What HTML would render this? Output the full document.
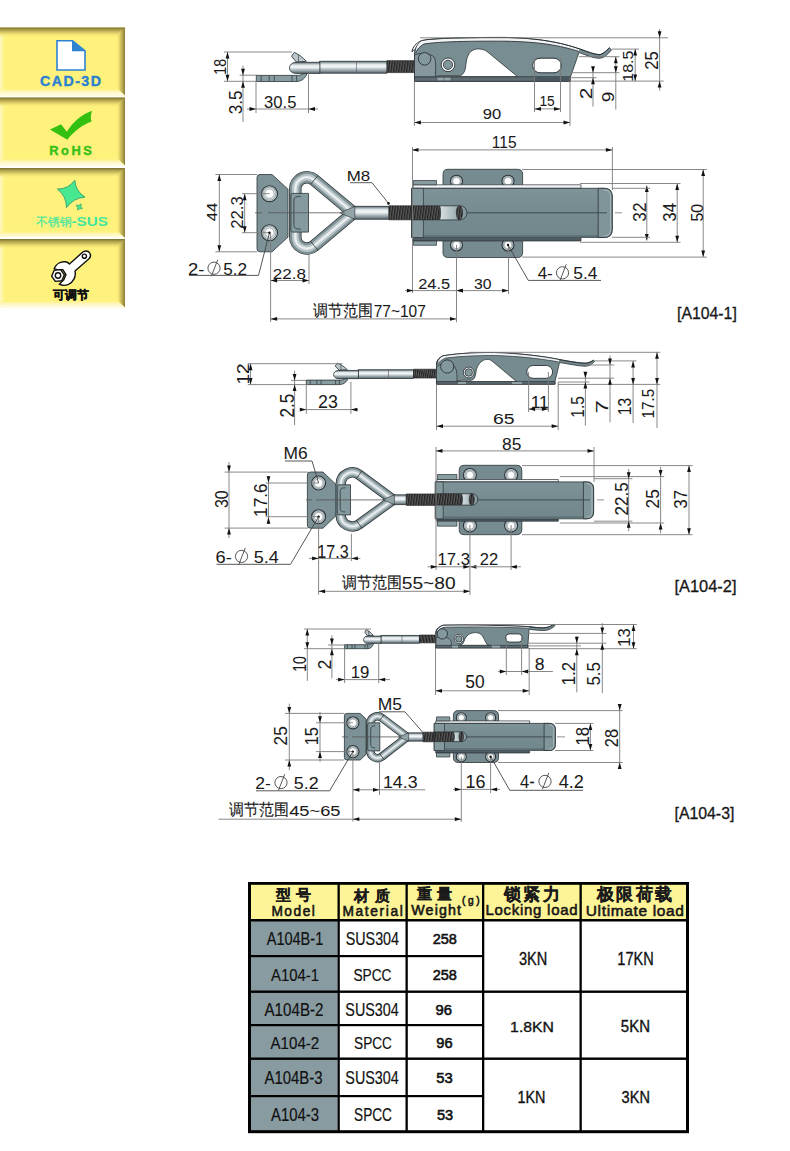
<!DOCTYPE html>
<html><head><meta charset="utf-8"><style>
html,body{margin:0;padding:0;background:#fff;}
body{width:790px;height:1151px;overflow:hidden;position:relative;font-family:"Liberation Sans",sans-serif;}
svg text{font-family:"Liberation Sans",sans-serif;} .ns *{vector-effect:non-scaling-stroke;}
</style></head><body>
<svg width="790" height="1151" viewBox="0 0 790 1151" style="position:absolute;left:0;top:0">
<defs>
<linearGradient id="tTop" x1="0" y1="0" x2="0" y2="1"><stop offset="0" stop-color="#7a6f30"/><stop offset="0.25" stop-color="#b1a24c"/><stop offset="0.6" stop-color="#e6d86f"/><stop offset="1" stop-color="#fef27c" stop-opacity="0"/></linearGradient>
<linearGradient id="tRight" x1="0" y1="0" x2="1" y2="0"><stop offset="0" stop-color="#fef27c" stop-opacity="0"/><stop offset="0.45" stop-color="#dccb66"/><stop offset="0.85" stop-color="#a39444"/><stop offset="1" stop-color="#857a38"/></linearGradient>
<linearGradient id="tBot" x1="0" y1="0" x2="0" y2="1"><stop offset="0" stop-color="#fef27c" stop-opacity="0"/><stop offset="0.5" stop-color="#fef6b8"/><stop offset="1" stop-color="#fffdf0"/></linearGradient>
<linearGradient id="tLeft" x1="0" y1="0" x2="1" y2="0"><stop offset="0" stop-color="#fff8c8"/><stop offset="1" stop-color="#fef27c" stop-opacity="0"/></linearGradient>

<linearGradient id="rod" x1="0" y1="0" x2="0" y2="1"><stop offset="0" stop-color="#5d6d74"/><stop offset="0.25" stop-color="#dfe6e9"/><stop offset="0.45" stop-color="#f4f7f8"/><stop offset="0.7" stop-color="#a9b6bc"/><stop offset="1" stop-color="#56646a"/></linearGradient>
<linearGradient id="rodH" x1="0" y1="0" x2="1" y2="0"><stop offset="0" stop-color="#5d6d74"/><stop offset="0.25" stop-color="#dfe6e9"/><stop offset="0.45" stop-color="#f4f7f8"/><stop offset="0.7" stop-color="#a9b6bc"/><stop offset="1" stop-color="#56646a"/></linearGradient>
<linearGradient id="body" x1="0" y1="0" x2="0" y2="1"><stop offset="0" stop-color="#72888c"/><stop offset="1" stop-color="#7c9296"/></linearGradient>
<pattern id="thr" x="0" y="0" width="2.6" height="20" patternUnits="userSpaceOnUse" patternTransform="skewX(-8)"><rect width="2.6" height="20" fill="#222"/><rect x="1.5" width="0.7" height="20" fill="#8a8a8a"/></pattern>
<pattern id="thrV" x="0" y="0" width="20" height="2.6" patternUnits="userSpaceOnUse"><rect width="20" height="2.6" fill="#222"/><rect y="1.5" width="20" height="0.7" fill="#8a8a8a"/></pattern>
<linearGradient id="lev" x1="0" y1="0" x2="0" y2="1"><stop offset="0" stop-color="#7d9397"/><stop offset="0.5" stop-color="#768b90"/><stop offset="1" stop-color="#72878c"/></linearGradient><linearGradient id="barrel" x1="0" y1="0" x2="1" y2="0"><stop offset="0" stop-color="#d9e0e3"/><stop offset="0.6" stop-color="#a0b2b5"/><stop offset="1" stop-color="#7d9296"/></linearGradient></defs>
<rect x="0" y="27.5" width="125" height="68.0" fill="#fef27c"/>
<rect x="0" y="27.5" width="7" height="68.0" fill="url(#tLeft)"/>
<rect x="0" y="27.5" width="125" height="10" fill="url(#tTop)"/>
<polygon points="116,35.5 125,27.5 125,95.5 116,87.5" fill="url(#tRight)"/>
<polygon points="0,87.5 116,87.5 125,95.5 0,95.5" fill="url(#tBot)"/>
<rect x="0" y="97.5" width="125" height="68.0" fill="#fef27c"/>
<rect x="0" y="97.5" width="7" height="68.0" fill="url(#tLeft)"/>
<rect x="0" y="97.5" width="125" height="10" fill="url(#tTop)"/>
<polygon points="116,105.5 125,97.5 125,165.5 116,157.5" fill="url(#tRight)"/>
<polygon points="0,157.5 116,157.5 125,165.5 0,165.5" fill="url(#tBot)"/>
<rect x="0" y="168" width="125" height="70" fill="#fef27c"/>
<rect x="0" y="168" width="7" height="70" fill="url(#tLeft)"/>
<rect x="0" y="168" width="125" height="10" fill="url(#tTop)"/>
<polygon points="116,176 125,168 125,238 116,230" fill="url(#tRight)"/>
<polygon points="0,230 116,230 125,238 0,238" fill="url(#tBot)"/>
<rect x="0" y="239" width="125" height="68.5" fill="#fef27c"/>
<rect x="0" y="239" width="7" height="68.5" fill="url(#tLeft)"/>
<rect x="0" y="239" width="125" height="10" fill="url(#tTop)"/>
<polygon points="116,247 125,239 125,307.5 116,299.5" fill="url(#tRight)"/>
<polygon points="0,299.5 116,299.5 125,307.5 0,307.5" fill="url(#tBot)"/>
<path d="M57,40.8 H72.5 L85,51 V70 H57 Z" fill="#fff" stroke="#2d82d2" stroke-width="1.6"/>
<path d="M72,40.5 L85.7,51.2 H72 Z" fill="#2d82d2"/>
<text x="40.03" y="86.06" font-size="14.23" letter-spacing="1.45" fill="#2b80d0" font-weight="bold" stroke="#2b80d0" stroke-width="0.4">CAD-3D</text>
<path d="M50,129.5 L61,124.3 L66.8,131.8 C73,122 82,114 92.3,110.8 C90.5,114.5 90.5,118.5 91.6,121.5 C83,124.5 74,131 67.3,139.8 Z" fill="#33c010"/>
<text x="49.17" y="154.57" font-size="12.82" letter-spacing="2.61" fill="#38bf18" font-weight="bold" stroke="#38bf18" stroke-width="0.4">RoHS</text>
<path d="M74.8,180.3 Q75.41,191.11 85,197.1 Q73.34,197.94 66.5,207.6 Q66.44,195.94 57.4,189.1 Q68.51,189.11 74.8,180.3 Z" fill="#48e890" stroke="#2f9f70" stroke-width="0.9"/>
<path d="M82.42,208.80 Q79.56,207.98 77.50,210.12 Q78.32,207.26 76.18,205.20 Q79.04,206.02 81.10,203.88 Q80.28,206.74 82.42,208.80 Z" fill="#48e890" stroke="#2f9f70" stroke-width="0.7"/>
<text x="36.00" y="225.60" font-size="12" textLength="35.50" lengthAdjust="spacingAndGlyphs" fill="#3fe6a0" stroke="#3fe6a0" stroke-width="0.15">不锈钢</text>
<text transform="translate(71.39,226.27) scale(1.189,1)" font-size="12.82" fill="#3fe6a0" font-weight="bold">-SUS</text>
<g stroke="#111" stroke-width="1.4" fill="#fff" stroke-linejoin="round"><path d="M69.5,264 L82.5,252.3 C84.8,250.3 88,250.6 89.6,252.8 C91,255 90.6,257.5 88.5,259.2 L75,271 C76.2,276.5 73.5,282 68.5,284.3 C65.5,285.6 62,285.6 59.2,284.2 L63.8,279.8 L66,274.6 L62.8,269.6 L57.5,269.8 L54.2,268.6 C56,264 60.5,261.2 65.5,261.8 C67.2,262.1 68.5,262.9 69.5,264 Z"/><circle cx="84.4" cy="256.2" r="2.1"/><path d="M51.6,276.2 L54.2,270.3 L60.6,269.6 L64.4,274.8 L61.8,280.7 L55.4,281.4 Z"/><circle cx="58" cy="275.5" r="2.7"/></g>
<text x="53.30" y="298.80" font-size="12" textLength="35.40" lengthAdjust="spacingAndGlyphs" fill="#111" font-weight="bold" stroke="#111" stroke-width="0.45">可调节</text>
<rect x="248" y="882" width="441" height="251" fill="#fff"/>
<rect x="248" y="882" width="441" height="37.5" fill="#fdf397"/>
<rect x="248" y="919.5" width="89.5" height="213.5" fill="#889ba1"/>
<rect x="248" y="882" width="441" height="2.8" fill="#000"/>
<rect x="248" y="1130.2" width="441" height="3" fill="#000"/>
<rect x="248" y="882" width="3" height="251" fill="#000"/>
<rect x="686" y="882" width="3" height="251" fill="#000"/>
<rect x="337.5" y="882" width="2.3" height="251" fill="#000"/>
<rect x="405.5" y="882" width="2.3" height="251" fill="#000"/>
<rect x="482" y="882" width="2.3" height="251" fill="#000"/>
<rect x="579.5" y="882" width="2.3" height="251" fill="#000"/>
<rect x="248" y="919" width="441" height="2.5" fill="#000"/>
<rect x="248" y="955" width="234" height="2.2" fill="#000"/>
<rect x="248" y="1024" width="234" height="2.2" fill="#000"/>
<rect x="248" y="1095" width="234" height="2.2" fill="#000"/>
<rect x="248" y="990.5" width="441" height="2.4" fill="#000"/>
<rect x="248" y="1057.5" width="441" height="2.4" fill="#000"/>
<text x="283.32" y="900.36" font-size="14.95" text-anchor="middle" font-weight="bold" fill="#1a1a1a" stroke="#1a1a1a" stroke-width="0.25">型</text>
<text x="303.48" y="900.36" font-size="14.95" text-anchor="middle" font-weight="bold" fill="#1a1a1a" stroke="#1a1a1a" stroke-width="0.25">号</text>
<text x="271.40" y="916.46" font-size="13.74" letter-spacing="1.53" fill="#1a1a1a" stroke="#111" stroke-width="0.55">Model</text>
<text x="361.08" y="901.14" font-size="15.05" text-anchor="middle" font-weight="bold" fill="#1a1a1a" stroke="#1a1a1a" stroke-width="0.25">材</text>
<text x="382.42" y="901.14" font-size="15.05" text-anchor="middle" font-weight="bold" fill="#1a1a1a" stroke="#1a1a1a" stroke-width="0.25">质</text>
<text x="342.40" y="916.46" font-size="13.74" letter-spacing="1.66" fill="#1a1a1a" stroke="#111" stroke-width="0.55">Material</text>
<text x="424.72" y="898.78" font-size="14.73" text-anchor="middle" font-weight="bold" fill="#1a1a1a" stroke="#1a1a1a" stroke-width="0.25">重</text>
<text x="444.28" y="898.78" font-size="14.73" text-anchor="middle" font-weight="bold" fill="#1a1a1a" stroke="#1a1a1a" stroke-width="0.25">量</text>
<text x="411.33" y="914.81" font-size="14.22" letter-spacing="1.12" fill="#1a1a1a" stroke="#111" stroke-width="0.55">Weight</text>
<text x="462.09" y="904.27" font-size="10.16" letter-spacing="2.56" fill="#1a1a1a" stroke="#111" stroke-width="0.55">(g)</text>
<text x="512.68" y="899.78" font-size="16.56" text-anchor="middle" font-weight="bold" fill="#1a1a1a" stroke="#1a1a1a" stroke-width="0.25">锁</text>
<text x="531.85" y="899.78" font-size="16.56" text-anchor="middle" font-weight="bold" fill="#1a1a1a" stroke="#1a1a1a" stroke-width="0.25">紧</text>
<text x="551.02" y="899.78" font-size="16.56" text-anchor="middle" font-weight="bold" fill="#1a1a1a" stroke="#1a1a1a" stroke-width="0.25">力</text>
<text x="485.40" y="915.36" font-size="14.97" letter-spacing="0.74" fill="#1a1a1a" stroke="#111" stroke-width="0.55">Locking load</text>
<text x="605.88" y="899.78" font-size="16.56" text-anchor="middle" font-weight="bold" fill="#1a1a1a" stroke="#1a1a1a" stroke-width="0.25">极</text>
<text x="624.96" y="899.78" font-size="16.56" text-anchor="middle" font-weight="bold" fill="#1a1a1a" stroke="#1a1a1a" stroke-width="0.25">限</text>
<text x="644.04" y="899.78" font-size="16.56" text-anchor="middle" font-weight="bold" fill="#1a1a1a" stroke="#1a1a1a" stroke-width="0.25">荷</text>
<text x="663.12" y="899.78" font-size="16.56" text-anchor="middle" font-weight="bold" fill="#1a1a1a" stroke="#1a1a1a" stroke-width="0.25">载</text>
<text x="585.74" y="915.74" font-size="15.51" letter-spacing="0.65" fill="#1a1a1a" stroke="#111" stroke-width="0.55">Ultimate load</text>
<text transform="translate(266.70,945.12) scale(0.794,1)" font-size="18.31" fill="#111" stroke="#111" stroke-width="0.2">A104B-1</text>
<text transform="translate(345.66,945.12) scale(0.783,1)" font-size="18.31" fill="#111" stroke="#111" stroke-width="0.2">SUS304</text>
<text transform="translate(432.68,943.95) scale(0.952,1)" font-size="15.21" fill="#111" stroke="#111" stroke-width="0.6">258</text>
<text transform="translate(271.00,980.73) scale(0.875,1)" font-size="17.04" fill="#111" stroke="#111" stroke-width="0.2">A104-1</text>
<text transform="translate(353.38,980.73) scale(0.806,1)" font-size="17.04" fill="#111" stroke="#111" stroke-width="0.2">SPCC</text>
<text transform="translate(432.68,980.00) scale(0.952,1)" font-size="15.21" fill="#111" stroke="#111" stroke-width="0.6">258</text>
<text transform="translate(264.50,1015.92) scale(0.841,1)" font-size="18.03" fill="#111" stroke="#111" stroke-width="0.2">A104B-2</text>
<text transform="translate(345.35,1015.92) scale(0.796,1)" font-size="18.03" fill="#111" stroke="#111" stroke-width="0.2">SUS304</text>
<text transform="translate(435.43,1014.85) scale(0.975,1)" font-size="15.21" fill="#111" stroke="#111" stroke-width="0.6">96</text>
<text transform="translate(270.50,1048.53) scale(0.880,1)" font-size="17.18" fill="#111" stroke="#111" stroke-width="0.2">A104-2</text>
<text transform="translate(354.09,1048.53) scale(0.793,1)" font-size="17.18" fill="#111" stroke="#111" stroke-width="0.2">SPCC</text>
<text transform="translate(436.34,1047.75) scale(0.962,1)" font-size="15.21" fill="#111" stroke="#111" stroke-width="0.6">96</text>
<text transform="translate(264.50,1084.02) scale(0.842,1)" font-size="17.75" fill="#111" stroke="#111" stroke-width="0.2">A104B-3</text>
<text transform="translate(345.35,1084.02) scale(0.809,1)" font-size="17.75" fill="#111" stroke="#111" stroke-width="0.2">SUS304</text>
<text transform="translate(436.21,1083.05) scale(0.970,1)" font-size="15.21" fill="#111" stroke="#111" stroke-width="0.6">53</text>
<text transform="translate(271.00,1120.82) scale(0.821,1)" font-size="18.17" fill="#111" stroke="#111" stroke-width="0.2">A104-3</text>
<text transform="translate(354.09,1120.82) scale(0.750,1)" font-size="18.17" fill="#111" stroke="#111" stroke-width="0.2">SPCC</text>
<text transform="translate(436.92,1119.70) scale(0.957,1)" font-size="15.21" fill="#111" stroke="#111" stroke-width="0.6">53</text>
<text transform="translate(519.02,964.62) scale(0.828,1)" font-size="17.61" fill="#111" stroke="#111" stroke-width="0.35">3KN</text>
<text transform="translate(617.31,964.80) scale(0.805,1)" font-size="18.12" fill="#111" stroke="#111" stroke-width="0.35">17KN</text>
<text transform="translate(510.11,1032.35) scale(1.020,1)" font-size="15.49" fill="#111" stroke="#111" stroke-width="0.35">1.8KN</text>
<text transform="translate(620.80,1032.34) scale(0.955,1)" font-size="15.71" fill="#111" stroke="#111" stroke-width="0.35">5KN</text>
<text transform="translate(517.42,1103.20) scale(0.872,1)" font-size="16.52" fill="#111" stroke="#111" stroke-width="0.35">1KN</text>
<text transform="translate(621.62,1103.04) scale(0.908,1)" font-size="16.06" fill="#111" stroke="#111" stroke-width="0.35">3KN</text>
<path d="M319.5,61.3 H387 V73.2 H319.5 Z" fill="url(#rod)" stroke="#2b3236" stroke-width="0.8"/>
<line x1="356.5" y1="61.3" x2="356.5" y2="73.2" stroke="#556" stroke-width="0.6"/>
<path d="M387,60.6 H415 V72.6 H387 Z" fill="url(#thr)" stroke="#222" stroke-width="0.6"/>
<path d="M256.3,75.4 H297.5 C301,75.4 304,74 306.3,71.5 L306.5,75 C304,79.5 300.5,81.5 296.5,81.5 H256.3 Z" fill="#879da1" stroke="#2b3236" stroke-width="0.8"/>
<line x1="261.1" y1="75.4" x2="261.1" y2="81.5" stroke="#2b3236" stroke-width="0.7"/>
<line x1="269.2" y1="75.4" x2="269.2" y2="81.5" stroke="#2b3236" stroke-width="0.7"/>
<line x1="274.3" y1="75.4" x2="274.3" y2="81.5" stroke="#2b3236" stroke-width="0.7"/>
<line x1="292" y1="75.4" x2="292" y2="81.5" stroke="#2b3236" stroke-width="0.7"/>
<line x1="296.6" y1="75.4" x2="296.6" y2="81.5" stroke="#2b3236" stroke-width="0.7"/>
<path d="M291.5,56.2 L294.3,52.3 C299,54.5 303,57.5 306.3,61.3 L296.3,62 Z" fill="#b9c5ca" stroke="#2b3236" stroke-width="0.8"/>
<line x1="298.5" y1="54.5" x2="298.5" y2="61.8" stroke="#2b3236" stroke-width="0.6"/>
<path d="M319.9,62.3 H296 C292,62.3 289.5,65 289.5,68 C289.5,71 292,73.4 296,73.4 H319.9 Z" fill="url(#rod)" stroke="#2b3236" stroke-width="0.8"/>
<path d="M414.5,81.3 V53 C414.5,50 416,45 421.5,41 C430,38.5 460,37.6 505,37.6 C540,38.5 560,42.5 580,49.2 C588,52 594,54.5 599,54.8 C603,54.5 606,51 609.5,47.8 L611.5,50 C607.5,54.5 604,58.3 599,58.3 C593,58.2 586,55 579,52.5 L570.5,76.8 V81.3 Z" fill="#778d91" stroke="#2b3236" stroke-width="0.8"/>
<path d="M421.5,41 C430,38.8 460,37.9 505,37.9 C540,38.7 560,42.7 579.5,49.4 L579,51.5 C560,45.5 540,41.8 505,41.2 C470,41 440,41.5 424,44 C420,46 417,49.5 415.5,53 C415.5,48.5 417.5,44 421.5,41 Z" fill="#f2f4f5" stroke="none" stroke-width="0.8"/>
<path d="M415.5,53 C417,49.5 420,46 424,44 C440,41.5 470,41 505,41.2 C540,41.8 560,45.5 579,51.5" fill="none" stroke="#2b3236" stroke-width="0.9"/>
<path d="M412,52 C412.5,47 416,43 421.5,40.6 C430,38.3 460,37.4 505,37.4 C540,38.3 560,42.3 580,49 C588,51.8 594,54.3 599,54.6 C603,54.3 606,51 609.5,47.6" fill="none" stroke="#2b3236" stroke-width="1.0"/>
<path d="M412,52 C413,50 414.5,49.5 416,50" fill="none" stroke="#2b3236" stroke-width="0.9"/>
<path d="M414.5,76.8 H570.5 V81.3 H414.5 Z" fill="#5f6d73" stroke="#2b3236" stroke-width="0.8"/>
<path d="M437,77.2 H451 V80.8 H437 Z" fill="#92a5a8" stroke="#3a4448" stroke-width="0.5"/>
<line x1="444" y1="77.2" x2="444" y2="80.8" stroke="#3a4448" stroke-width="0.5"/>
<path d="M534,77 H570.5 V81.3 H534 Z" fill="#49565c" stroke="none" stroke-width="0.8"/>
<path d="M436.6,76.6 C437,75.8 437.5,75.6 439,75.6 H459.4 C463.5,75.5 465.5,70 465.8,65.4 C466.5,59 467.5,54.5 471,51.3 C474,49 477,48.8 479.5,49 C483,49.3 485,50 487,51.5 L517.5,76.6 Z" fill="#fff" stroke="#2b3236" stroke-width="0.8"/>
<path d="M414.5,76.8 V55 C420,52.5 430,53 434,57 C436.3,60 435.7,70 435.4,76.8 Z" fill="#87979e" stroke="#2b3236" stroke-width="0.8"/>
<circle cx="424.6" cy="58.8" r="6.3" fill="#83989c" stroke="#2b3236" stroke-width="0.9"/>
<circle cx="448" cy="64.8" r="6.8" fill="#ffffff" stroke="#2b3236" stroke-width="0.9"/>
<circle cx="448" cy="64.8" r="4.6" fill="#83989c" stroke="#2b3236" stroke-width="0.9"/>
<path d="M540,58.2 H554 A7.3,7.3 0 0 1 554,72.8 H540 A7.3,7.3 0 0 1 540,58.2 Z" fill="#fff" stroke="#2b3236" stroke-width="1"/>
<line x1="534.5" y1="72.8" x2="534.5" y2="81" stroke="#3a4448" stroke-width="0.6"/>
<line x1="560.5" y1="72.8" x2="560.5" y2="81" stroke="#3a4448" stroke-width="0.6"/>
<path d="M260,174.5 H272 L288,189.2 V237.10000000000002 L272,251.8 H260 Q257,251.8 257,248.8 V177.5 Q257,174.5 260,174.5 Z" fill="#7d9296" stroke="#2b3236" stroke-width="0.8"/>
<circle cx="269.5" cy="193.7" r="8" fill="#d5dce0" stroke="#2b3236" stroke-width="1.1"/>
<circle cx="269.5" cy="193.7" r="6.60" fill="none" stroke="#829395" stroke-width="0.8"/>
<circle cx="269.5" cy="193.7" r="4.6" fill="#fff" stroke="#6a767b" stroke-width="0.5"/>
<circle cx="269.5" cy="232.7" r="8" fill="#d5dce0" stroke="#2b3236" stroke-width="1.1"/>
<circle cx="269.5" cy="232.7" r="6.60" fill="none" stroke="#829395" stroke-width="0.8"/>
<circle cx="269.5" cy="232.7" r="4.6" fill="#fff" stroke="#6a767b" stroke-width="0.5"/>
<path d="M353.50,212.80 L314.26,179.99 A11.55,11.55 0 0 0 295.30,188.85 V236.95 A11.55,11.55 0 0 0 314.29,245.79 Z" fill="none" stroke="#2b3236" stroke-width="12.5" stroke-linejoin="round"/>
<path d="M353.50,212.80 L314.26,179.99 A11.55,11.55 0 0 0 295.30,188.85 V236.95 A11.55,11.55 0 0 0 314.29,245.79 Z" fill="none" stroke="#7e9194" stroke-width="11" stroke-linejoin="round"/>
<path d="M353.50,212.80 L314.26,179.99 A11.55,11.55 0 0 0 295.30,188.85 V236.95 A11.55,11.55 0 0 0 314.29,245.79 Z" fill="none" stroke="#b9c4c8" stroke-width="6.6" stroke-linejoin="round"/>
<path d="M353.50,212.80 L314.26,179.99 A11.55,11.55 0 0 0 295.30,188.85 V236.95 A11.55,11.55 0 0 0 314.29,245.79 Z" fill="none" stroke="#e9eef0" stroke-width="2.42" stroke-linejoin="round"/>
<line x1="310.73076846287734" y1="184.20864931969834" x2="317.7867111226542" y2="175.76982990096798" stroke="#2b3236" stroke-width="0.8"/>
<line x1="310.74464312027135" y1="241.57971435033775" x2="317.82581242985555" y2="249.99737680549728" stroke="#2b3236" stroke-width="0.8"/>
<path d="M292.4,193.4 H308.5 V232.1 H292.4 Q290.9,232.1 290.9,230.6 V194.9 Q290.9,193.4 292.4,193.4 Z" fill="#859a9e" stroke="#2b3236" stroke-width="0.8"/>
<path d="M300.82,196.4 C293.9,196.4 293.9,198.4 293.9,202.4 V223.1 C293.9,227.1 293.9,229.1 300.82,229.1" fill="none" stroke="#2b3236" stroke-width="0.8"/>
<path d="M353.5,206.35000000000002 H389 V219.25 H353.5 Z" fill="url(#rod)" stroke="#2b3236" stroke-width="0.8"/>
<path d="M339.95,212.8 L354.9,206.35000000000002 V219.25 Z" fill="#92a4a7" stroke="#2b3236" stroke-width="0.6"/>
<path d="M389,205.75 H412 V219.85000000000002 H389 Z" fill="url(#thr)" stroke="#222" stroke-width="0.6"/>
<path d="M448,169.3 H517.6 Q522.6,169.3 522.6,174.3 V252.5 Q522.6,257.5 517.6,257.5 H448 Q443,257.5 443,252.5 V174.3 Q443,169.3 448,169.3 Z" fill="#758b8f" stroke="#2b3236" stroke-width="0.8"/>
<circle cx="456.5" cy="181.2" r="6" fill="#d5dce0" stroke="#2b3236" stroke-width="1.1"/>
<circle cx="456.5" cy="181.2" r="4.60" fill="none" stroke="#829395" stroke-width="0.8"/>
<circle cx="456.5" cy="181.2" r="3.8" fill="#fff" stroke="#6a767b" stroke-width="0.5"/>
<circle cx="508" cy="181.2" r="6" fill="#d5dce0" stroke="#2b3236" stroke-width="1.1"/>
<circle cx="508" cy="181.2" r="4.60" fill="none" stroke="#829395" stroke-width="0.8"/>
<circle cx="508" cy="181.2" r="3.8" fill="#fff" stroke="#6a767b" stroke-width="0.5"/>
<circle cx="456.5" cy="245" r="6" fill="#d5dce0" stroke="#2b3236" stroke-width="1.1"/>
<circle cx="456.5" cy="245" r="4.60" fill="none" stroke="#829395" stroke-width="0.8"/>
<circle cx="456.5" cy="245" r="3.8" fill="#fff" stroke="#6a767b" stroke-width="0.5"/>
<circle cx="508" cy="245" r="6" fill="#d5dce0" stroke="#2b3236" stroke-width="1.1"/>
<circle cx="508" cy="245" r="4.60" fill="none" stroke="#829395" stroke-width="0.8"/>
<circle cx="508" cy="245" r="3.8" fill="#fff" stroke="#6a767b" stroke-width="0.5"/>
<path d="M413.1,184.8 H581 V188.3 H413.1 Z" fill="#f3f5f6" stroke="#2b3236" stroke-width="0.7"/>
<path d="M413.1,237.5 H581 V241.0 H413.1 Z" fill="#4e5b61" stroke="#2b3236" stroke-width="0.7"/>
<path d="M413.4,180.5 H436.5 V184.8 H413.4 Z" fill="#879da0" stroke="#2b3236" stroke-width="0.7"/>
<path d="M413.4,241.0 H436.5 V245.3 H413.4 Z" fill="#879da0" stroke="#2b3236" stroke-width="0.7"/>
<path d="M411.6,188.3 H604.2 Q612.2,188.3 612.2,196.3 V229.5 Q612.2,237.5 604.2,237.5 H411.6 Z" fill="url(#lev)" stroke="#2b3236" stroke-width="0.8"/>
<path d="M412.6,235.3 H598.2 V237.5 H412.6 Z" fill="#5d7074" stroke="none" stroke-width="0.8"/>
<path d="M411.6,188.3 H423.4 V237.5 H411.6 Z" fill="#84999d" stroke="#2b3236" stroke-width="0.7"/>
<path d="M598.2,188.3 H604.2 Q612.2,188.3 612.2,196.3 V229.5 Q612.2,237.5 604.2,237.5 H598.2 Z" fill="#809599" stroke="#2b3236" stroke-width="0.8"/>
<path d="M604.2,189.9 Q610.6,189.9 610.6,196.3 V229.5 Q610.6,235.9 604.2,235.9" fill="none" stroke="#b8c6c9" stroke-width="0.7"/>
<path d="M411.6,205.8 H439.6 V219.9 H411.6 Z" fill="url(#thr)" stroke="#222" stroke-width="0.6"/>
<path d="M439.6,205.8 H459.95 A7.049999999999997,7.049999999999997 0 0 1 459.95,219.9 H439.6 C441.0,216.9 441.0,208.8 439.6,205.8 Z" fill="url(#barrel)" stroke="#2b3236" stroke-width="0.8"/>
<ellipse cx="459.45" cy="212.85000000000002" rx="3.17" ry="7.049999999999997" fill="url(#thr)" stroke="#222" stroke-width="0.6"/>
<g class="ns" transform="matrix(0.82042,0,0,0.73684,96.027,324.547)"><path d="M319.5,61.3 H387 V73.2 H319.5 Z" fill="url(#rod)" stroke="#2b3236" stroke-width="0.8"/>
<line x1="356.5" y1="61.3" x2="356.5" y2="73.2" stroke="#556" stroke-width="0.6"/>
<path d="M387,60.6 H415 V72.6 H387 Z" fill="url(#thr)" stroke="#222" stroke-width="0.6"/>
<path d="M256.3,75.4 H297.5 C301,75.4 304,74 306.3,71.5 L306.5,75 C304,79.5 300.5,81.5 296.5,81.5 H256.3 Z" fill="#879da1" stroke="#2b3236" stroke-width="0.8"/>
<line x1="261.1" y1="75.4" x2="261.1" y2="81.5" stroke="#2b3236" stroke-width="0.7"/>
<line x1="269.2" y1="75.4" x2="269.2" y2="81.5" stroke="#2b3236" stroke-width="0.7"/>
<line x1="274.3" y1="75.4" x2="274.3" y2="81.5" stroke="#2b3236" stroke-width="0.7"/>
<line x1="292" y1="75.4" x2="292" y2="81.5" stroke="#2b3236" stroke-width="0.7"/>
<line x1="296.6" y1="75.4" x2="296.6" y2="81.5" stroke="#2b3236" stroke-width="0.7"/>
<path d="M291.5,56.2 L294.3,52.3 C299,54.5 303,57.5 306.3,61.3 L296.3,62 Z" fill="#b9c5ca" stroke="#2b3236" stroke-width="0.8"/>
<line x1="298.5" y1="54.5" x2="298.5" y2="61.8" stroke="#2b3236" stroke-width="0.6"/>
<path d="M319.9,62.3 H296 C292,62.3 289.5,65 289.5,68 C289.5,71 292,73.4 296,73.4 H319.9 Z" fill="url(#rod)" stroke="#2b3236" stroke-width="0.8"/></g>
<path d="M436.5,384.2 V365 C436.5,361 438.5,358 443,355.8 C460,353 480,352.4 494.6,352.5 C520,353.3 545,356.5 559.1,359.5 C570,361.5 580,363.2 586,363.2 C589,362.8 591.5,361.5 593.5,360.2 L594.5,361.6 C592,364.2 589,366.3 585,366.3 C578,366 568,363.8 559.5,362.5 L555,381.6 V384.2 Z" fill="#758b8f" stroke="#2b3236" stroke-width="0.8"/>
<path d="M443,355.8 C460,353 480,352.4 494.6,352.5 C520,353.3 545,356.5 559.1,359.5 L558.8,362 C545,359.3 520,356.2 494.6,355.5 C480,355.4 462,356 446,358 C442,359.5 439.5,361.5 437.8,364 C438.5,360 440,357.5 443,355.8 Z" fill="#f0f3f4" stroke="none" stroke-width="0.8"/>
<path d="M436.5,365 C436.5,361 438.5,358 443,355.8 C460,353 480,352.4 494.6,352.5 C520,353.3 545,356.5 559.1,359.5 C570,361.5 580,363.2 586,363.2 C589,362.8 591.5,361.5 593.5,360.2" fill="none" stroke="#2b3236" stroke-width="0.9"/>
<path d="M437.8,364 C439.5,361.5 442,359.5 446,358 C462,356 480,355.4 494.6,355.5 C520,356.2 545,359.3 558.8,362" fill="none" stroke="#2b3236" stroke-width="0.7"/>
<path d="M436.5,381.6 H555 V384.2 H436.5 Z" fill="#5f6d73" stroke="#2b3236" stroke-width="0.7"/>
<path d="M458,381.9 H466 V383.9 H458 Z" fill="#92a5a8" stroke="none" stroke-width="0.8"/>
<path d="M512,381.9 H522 V383.9 H512 Z" fill="#92a5a8" stroke="none" stroke-width="0.8"/>
<path d="M456.5,381.5 C458,380.6 460,380.2 463,380.2 H471.5 C474,379.8 475.3,377 475.8,373 C476.5,367 479.5,361.5 484.5,359.8 C487.5,358.9 490,359.4 492,361 L516.5,381.5 Z" fill="#fff" stroke="#2b3236" stroke-width="0.8"/>
<path d="M436.5,381.6 V367 C441,362.5 451,362.5 455,367 C457,370 457.3,376 456.8,381.6 Z" fill="#80979a" stroke="#2b3236" stroke-width="0.7"/>
<circle cx="447.2" cy="366.5" r="6.6" fill="#83989c" stroke="#2b3236" stroke-width="0.9"/>
<circle cx="468.7" cy="372.5" r="5.4" fill="#ffffff" stroke="#2b3236" stroke-width="0.9"/>
<circle cx="468.7" cy="372.5" r="3.8" fill="#83989c" stroke="#2b3236" stroke-width="0.8"/>
<path d="M533.2,365.5 H546.2 A6.4,6.4 0 0 1 546.2,378.3 H533.2 A6.4,6.4 0 0 1 533.2,365.5 Z" fill="#fff" stroke="#2b3236" stroke-width="0.9"/>
<path d="M310.4,472 H323 L336.3,484.8 V515.4000000000001 L323,528.2 H310.4 Q307.4,528.2 307.4,525.2 V475 Q307.4,472 310.4,472 Z" fill="#7d9296" stroke="#2b3236" stroke-width="0.8"/>
<circle cx="318.6" cy="483" r="7" fill="#d5dce0" stroke="#2b3236" stroke-width="1.1"/>
<circle cx="318.6" cy="483" r="5.60" fill="none" stroke="#829395" stroke-width="0.8"/>
<circle cx="318.6" cy="483" r="4.3" fill="#fff" stroke="#6a767b" stroke-width="0.5"/>
<circle cx="318.6" cy="516.7" r="7" fill="#d5dce0" stroke="#2b3236" stroke-width="1.1"/>
<circle cx="318.6" cy="516.7" r="5.60" fill="none" stroke="#829395" stroke-width="0.8"/>
<circle cx="318.6" cy="516.7" r="4.3" fill="#fff" stroke="#6a767b" stroke-width="0.5"/>
<path d="M393.00,499.70 L359.20,474.72 A11.57,11.57 0 0 0 340.75,484.02 V514.88 A11.57,11.57 0 0 0 359.11,524.25 Z" fill="none" stroke="#2b3236" stroke-width="10.4" stroke-linejoin="round"/>
<path d="M393.00,499.70 L359.20,474.72 A11.57,11.57 0 0 0 340.75,484.02 V514.88 A11.57,11.57 0 0 0 359.11,524.25 Z" fill="none" stroke="#7e9194" stroke-width="8.9" stroke-linejoin="round"/>
<path d="M393.00,499.70 L359.20,474.72 A11.57,11.57 0 0 0 340.75,484.02 V514.88 A11.57,11.57 0 0 0 359.11,524.25 Z" fill="none" stroke="#b9c4c8" stroke-width="5.34" stroke-linejoin="round"/>
<path d="M393.00,499.70 L359.20,474.72 A11.57,11.57 0 0 0 340.75,484.02 V514.88 A11.57,11.57 0 0 0 359.11,524.25 Z" fill="none" stroke="#e9eef0" stroke-width="1.9580000000000002" stroke-linejoin="round"/>
<line x1="356.5520171601947" y1="478.2942309900051" x2="361.842038610438" y2="471.13701972751153" stroke="#2b3236" stroke-width="0.8"/>
<line x1="356.4967355575326" y1="520.6462188722282" x2="361.7176550044484" y2="527.8539924625138" stroke="#2b3236" stroke-width="0.8"/>
<path d="M338.7,484.8 H350.5 V514.9 H338.7 Q337.2,514.9 337.2,513.4 V486.3 Q337.2,484.8 338.7,484.8 Z" fill="#859a9e" stroke="#2b3236" stroke-width="0.8"/>
<path d="M345.185,487.8 C340.2,487.8 340.2,489.8 340.2,493.8 V505.9 C340.2,509.9 340.2,511.9 345.185,511.9" fill="none" stroke="#2b3236" stroke-width="0.8"/>
<path d="M393,494.8 H406.3 V504.59999999999997 H393 Z" fill="url(#rod)" stroke="#2b3236" stroke-width="0.8"/>
<path d="M382.71,499.7 L394.4,494.8 V504.59999999999997 Z" fill="#92a4a7" stroke="#2b3236" stroke-width="0.6"/>
<path d="M406.3,493.95 H437 V505.45 H406.3 Z" fill="url(#thr)" stroke="#222" stroke-width="0.6"/>
<path d="M464.2,465.3 H516.8 Q521.8,465.3 521.8,470.3 V529.7 Q521.8,534.7 516.8,534.7 H464.2 Q459.2,534.7 459.2,529.7 V470.3 Q459.2,465.3 464.2,465.3 Z" fill="#758b8f" stroke="#2b3236" stroke-width="0.8"/>
<circle cx="469.9" cy="475" r="6.5" fill="#d5dce0" stroke="#2b3236" stroke-width="1.1"/>
<circle cx="469.9" cy="475" r="5.10" fill="none" stroke="#829395" stroke-width="0.8"/>
<circle cx="469.9" cy="475" r="3.8" fill="#fff" stroke="#6a767b" stroke-width="0.5"/>
<circle cx="511.1" cy="475" r="6.5" fill="#d5dce0" stroke="#2b3236" stroke-width="1.1"/>
<circle cx="511.1" cy="475" r="5.10" fill="none" stroke="#829395" stroke-width="0.8"/>
<circle cx="511.1" cy="475" r="3.8" fill="#fff" stroke="#6a767b" stroke-width="0.5"/>
<circle cx="469.9" cy="525.6" r="6.5" fill="#d5dce0" stroke="#2b3236" stroke-width="1.1"/>
<circle cx="469.9" cy="525.6" r="5.10" fill="none" stroke="#829395" stroke-width="0.8"/>
<circle cx="469.9" cy="525.6" r="3.8" fill="#fff" stroke="#6a767b" stroke-width="0.5"/>
<circle cx="511.1" cy="525.6" r="6.5" fill="#d5dce0" stroke="#2b3236" stroke-width="1.1"/>
<circle cx="511.1" cy="525.6" r="5.10" fill="none" stroke="#829395" stroke-width="0.8"/>
<circle cx="511.1" cy="525.6" r="3.8" fill="#fff" stroke="#6a767b" stroke-width="0.5"/>
<path d="M436.8,479.5 H558.3 V481.9 H436.8 Z" fill="#f3f5f6" stroke="#2b3236" stroke-width="0.7"/>
<path d="M436.8,518.8 H558.3 V521.1999999999999 H436.8 Z" fill="#4e5b61" stroke="#2b3236" stroke-width="0.7"/>
<path d="M437.5,474.5 H456.9 V479.5 H437.5 Z" fill="#879da0" stroke="#2b3236" stroke-width="0.7"/>
<path d="M437.5,521.1999999999999 H456.9 V526.1999999999999 H437.5 Z" fill="#879da0" stroke="#2b3236" stroke-width="0.7"/>
<path d="M435.3,481.9 H586.6 Q593.6,481.9 593.6,488.9 V511.79999999999995 Q593.6,518.8 586.6,518.8 H435.3 Z" fill="url(#lev)" stroke="#2b3236" stroke-width="0.8"/>
<path d="M436.3,516.5999999999999 H583.4 V518.8 H436.3 Z" fill="#5d7074" stroke="none" stroke-width="0.8"/>
<path d="M435.3,481.9 H443.2 V518.8 H435.3 Z" fill="#84999d" stroke="#2b3236" stroke-width="0.7"/>
<path d="M583.4,481.9 H586.6 Q593.6,481.9 593.6,488.9 V511.79999999999995 Q593.6,518.8 586.6,518.8 H583.4 Z" fill="#809599" stroke="#2b3236" stroke-width="0.8"/>
<path d="M586.6,483.5 Q592.0,483.5 592.0,488.9 V511.79999999999995 Q592.0,517.1999999999999 586.6,517.1999999999999" fill="none" stroke="#b8c6c9" stroke-width="0.7"/>
<path d="M435.3,493.7 H461.5 V505.1 H435.3 Z" fill="url(#thr)" stroke="#222" stroke-width="0.6"/>
<path d="M461.5,493.7 H472.19999999999993 A5.700000000000017,5.700000000000017 0 0 1 472.19999999999993,505.1 H461.5 C462.9,502.1 462.9,496.7 461.5,493.7 Z" fill="url(#barrel)" stroke="#2b3236" stroke-width="0.8"/>
<ellipse cx="471.69999999999993" cy="499.4" rx="2.57" ry="5.700000000000017" fill="url(#thr)" stroke="#222" stroke-width="0.6"/>
<g class="ns" transform="matrix(0.57278,0,0,0.65614,197.797,595.225)"><path d="M319.5,61.3 H387 V73.2 H319.5 Z" fill="url(#rod)" stroke="#2b3236" stroke-width="0.8"/>
<line x1="356.5" y1="61.3" x2="356.5" y2="73.2" stroke="#556" stroke-width="0.6"/>
<path d="M387,60.6 H415 V72.6 H387 Z" fill="url(#thr)" stroke="#222" stroke-width="0.6"/>
<path d="M256.3,75.4 H297.5 C301,75.4 304,74 306.3,71.5 L306.5,75 C304,79.5 300.5,81.5 296.5,81.5 H256.3 Z" fill="#879da1" stroke="#2b3236" stroke-width="0.8"/>
<line x1="261.1" y1="75.4" x2="261.1" y2="81.5" stroke="#2b3236" stroke-width="0.7"/>
<line x1="269.2" y1="75.4" x2="269.2" y2="81.5" stroke="#2b3236" stroke-width="0.7"/>
<line x1="274.3" y1="75.4" x2="274.3" y2="81.5" stroke="#2b3236" stroke-width="0.7"/>
<line x1="292" y1="75.4" x2="292" y2="81.5" stroke="#2b3236" stroke-width="0.7"/>
<line x1="296.6" y1="75.4" x2="296.6" y2="81.5" stroke="#2b3236" stroke-width="0.7"/>
<path d="M291.5,56.2 L294.3,52.3 C299,54.5 303,57.5 306.3,61.3 L296.3,62 Z" fill="#b9c5ca" stroke="#2b3236" stroke-width="0.8"/>
<line x1="298.5" y1="54.5" x2="298.5" y2="61.8" stroke="#2b3236" stroke-width="0.6"/>
<path d="M319.9,62.3 H296 C292,62.3 289.5,65 289.5,68 C289.5,71 292,73.4 296,73.4 H319.9 Z" fill="url(#rod)" stroke="#2b3236" stroke-width="0.8"/></g>
<path d="M435.8,647.9 V634 C435.5,630 438,627 443.2,625.2 C470,624.6 500,625.2 528.7,626.6 C536,627.6 542,628.2 546,627.6 C549.5,627 552,625.5 554.2,624.3 L555,625.6 C552.5,628 549.5,630.4 544,630.5 C539,630.6 533,629.8 529,629.3 L527.9,645.4 V647.9 Z" fill="#758b8f" stroke="#2b3236" stroke-width="0.8"/>
<path d="M443.2,625.2 C470,624.6 500,625.2 528.7,626.6 L528.6,628.2 C500,627 470,626.6 444,627.3 C440,628.5 438,630.5 436.6,633.2 C437,629.5 439.5,626.6 443.2,625.2 Z" fill="#f0f3f4" stroke="none" stroke-width="0.8"/>
<path d="M435.8,634 C435.5,630 438,627 443.2,625.2 C470,624.6 500,625.2 528.7,626.6 C536,627.6 542,628.2 546,627.6 C549.5,627 552,625.5 554.2,624.3" fill="none" stroke="#2b3236" stroke-width="0.9"/>
<path d="M436.6,633.2 C438,630.5 440,628.5 444,627.3 C470,626.6 500,627 528.6,628.2" fill="none" stroke="#2b3236" stroke-width="0.7"/>
<path d="M435.8,645.4 H527.9 V647.9 H435.8 Z" fill="#5f6d73" stroke="#2b3236" stroke-width="0.7"/>
<path d="M452,645.6 H458 V647.7 H452 Z" fill="#92a5a8" stroke="none" stroke-width="0.8"/>
<path d="M492,645.6 H500 V647.7 H492 Z" fill="#92a5a8" stroke="none" stroke-width="0.8"/>
<path d="M459.5,645.3 C462,645 463,643.5 463.7,642 C465,637.5 467.5,634.6 471,633.3 C474,632.3 477.5,632.4 480,633.6 C482.5,635 484.5,640 486.8,644.2 C487.3,645 488,645.3 489.5,645.3 Z" fill="#fff" stroke="#2b3236" stroke-width="0.8"/>
<path d="M436,645.4 V638 C440,636.5 448,636.5 450.5,640 C451.5,642 451.5,644 451.2,645.4 Z" fill="#87979e" stroke="#2b3236" stroke-width="0.7"/>
<circle cx="442.3" cy="633.9" r="5.2" fill="#83989c" stroke="#2b3236" stroke-width="0.9"/>
<circle cx="458.8" cy="638.9" r="4.6" fill="#ffffff" stroke="#2b3236" stroke-width="0.8"/>
<circle cx="458.8" cy="638.9" r="3.2" fill="#83989c" stroke="#2b3236" stroke-width="0.8"/>
<path d="M509.8,633.9 H518 A4.1,4.1 0 0 1 518,642.1 H509.8 A4.1,4.1 0 0 1 509.8,633.9 Z" fill="#fff" stroke="#2b3236" stroke-width="0.9"/>
<path d="M346.9,713.4 H360.1 L366.1,719 V754.4000000000001 L360.1,760 H346.9 Q344.4,760 344.4,757.5 V715.9 Q344.4,713.4 346.9,713.4 Z" fill="#7d9296" stroke="#2b3236" stroke-width="0.8"/>
<circle cx="352.9" cy="722.8" r="6.1" fill="#d5dce0" stroke="#2b3236" stroke-width="1.1"/>
<circle cx="352.9" cy="722.8" r="4.70" fill="none" stroke="#829395" stroke-width="0.8"/>
<circle cx="352.9" cy="722.8" r="3.8" fill="#fff" stroke="#6a767b" stroke-width="0.5"/>
<circle cx="352.9" cy="751.6" r="6.1" fill="#d5dce0" stroke="#2b3236" stroke-width="1.1"/>
<circle cx="352.9" cy="751.6" r="4.70" fill="none" stroke="#829395" stroke-width="0.8"/>
<circle cx="352.9" cy="751.6" r="3.8" fill="#fff" stroke="#6a767b" stroke-width="0.5"/>
<path d="M407.20,737.00 L381.75,717.75 A7.14,7.14 0 0 0 370.30,723.44 V750.96 A7.14,7.14 0 0 0 381.80,756.61 Z" fill="none" stroke="#2b3236" stroke-width="8.3" stroke-linejoin="round"/>
<path d="M407.20,737.00 L381.75,717.75 A7.14,7.14 0 0 0 370.30,723.44 V750.96 A7.14,7.14 0 0 0 381.80,756.61 Z" fill="none" stroke="#7e9194" stroke-width="6.8" stroke-linejoin="round"/>
<path d="M407.20,737.00 L381.75,717.75 A7.14,7.14 0 0 0 370.30,723.44 V750.96 A7.14,7.14 0 0 0 381.80,756.61 Z" fill="none" stroke="#b9c4c8" stroke-width="4.08" stroke-linejoin="round"/>
<path d="M407.20,737.00 L381.75,717.75 A7.14,7.14 0 0 0 370.30,723.44 V750.96 A7.14,7.14 0 0 0 381.80,756.61 Z" fill="none" stroke="#e9eef0" stroke-width="1.496" stroke-linejoin="round"/>
<line x1="379.69635006957367" y1="720.4573025021743" x2="383.79880474152594" y2="715.0342161424917" stroke="#2b3236" stroke-width="0.8"/>
<line x1="379.72585991952997" y1="753.9201426364766" x2="383.88196886412993" y2="759.3022201573431" stroke="#2b3236" stroke-width="0.8"/>
<path d="M369.2,722.8 H379.8 V750.9 H369.2 Q367.7,750.9 367.7,749.4 V724.3 Q367.7,722.8 369.2,722.8 Z" fill="#859a9e" stroke="#2b3236" stroke-width="0.8"/>
<path d="M375.145,725.8 C370.7,725.8 370.7,727.8 370.7,731.8 V741.9 C370.7,745.9 370.7,747.9 375.145,747.9" fill="none" stroke="#2b3236" stroke-width="0.8"/>
<path d="M407.2,732.85 H423.1 V741.15 H407.2 Z" fill="url(#rod)" stroke="#2b3236" stroke-width="0.8"/>
<path d="M398.49,737 L408.59999999999997,732.85 V741.15 Z" fill="#92a4a7" stroke="#2b3236" stroke-width="0.6"/>
<path d="M423.1,732.15 H453.5 V741.85 H423.1 Z" fill="url(#thr)" stroke="#222" stroke-width="0.6"/>
<path d="M458.4,710.6 H493.5 Q498.5,710.6 498.5,715.6 V757.5 Q498.5,762.5 493.5,762.5 H458.4 Q453.4,762.5 453.4,757.5 V715.6 Q453.4,710.6 458.4,710.6 Z" fill="#758b8f" stroke="#2b3236" stroke-width="0.8"/>
<circle cx="461.3" cy="717.7" r="5" fill="#d5dce0" stroke="#2b3236" stroke-width="1.1"/>
<circle cx="461.3" cy="717.7" r="3.60" fill="none" stroke="#829395" stroke-width="0.8"/>
<circle cx="461.3" cy="717.7" r="3" fill="#fff" stroke="#6a767b" stroke-width="0.5"/>
<circle cx="490.6" cy="717.7" r="5" fill="#d5dce0" stroke="#2b3236" stroke-width="1.1"/>
<circle cx="490.6" cy="717.7" r="3.60" fill="none" stroke="#829395" stroke-width="0.8"/>
<circle cx="490.6" cy="717.7" r="3" fill="#fff" stroke="#6a767b" stroke-width="0.5"/>
<circle cx="461.3" cy="756.7" r="5" fill="#d5dce0" stroke="#2b3236" stroke-width="1.1"/>
<circle cx="461.3" cy="756.7" r="3.60" fill="none" stroke="#829395" stroke-width="0.8"/>
<circle cx="461.3" cy="756.7" r="3" fill="#fff" stroke="#6a767b" stroke-width="0.5"/>
<circle cx="490.6" cy="756.7" r="5" fill="#d5dce0" stroke="#2b3236" stroke-width="1.1"/>
<circle cx="490.6" cy="756.7" r="3.60" fill="none" stroke="#829395" stroke-width="0.8"/>
<circle cx="490.6" cy="756.7" r="3" fill="#fff" stroke="#6a767b" stroke-width="0.5"/>
<path d="M435.7,720.9 H529.6 V723.4 H435.7 Z" fill="#f3f5f6" stroke="#2b3236" stroke-width="0.7"/>
<path d="M435.7,750.5 H529.6 V753.0 H435.7 Z" fill="#4e5b61" stroke="#2b3236" stroke-width="0.7"/>
<path d="M436.5,716.9 H449.8 V720.9 H436.5 Z" fill="#879da0" stroke="#2b3236" stroke-width="0.7"/>
<path d="M436.5,753.0 H449.8 V757.0 H436.5 Z" fill="#879da0" stroke="#2b3236" stroke-width="0.7"/>
<path d="M434.2,723.4 H549.3 Q555.3,723.4 555.3,729.4 V744.5 Q555.3,750.5 549.3,750.5 H434.2 Z" fill="url(#lev)" stroke="#2b3236" stroke-width="0.8"/>
<path d="M435.2,748.3 H544.1 V750.5 H435.2 Z" fill="#5d7074" stroke="none" stroke-width="0.8"/>
<path d="M434.2,723.4 H444.5 V750.5 H434.2 Z" fill="#84999d" stroke="#2b3236" stroke-width="0.7"/>
<path d="M544.1,723.4 H549.3 Q555.3,723.4 555.3,729.4 V744.5 Q555.3,750.5 549.3,750.5 H544.1 Z" fill="#809599" stroke="#2b3236" stroke-width="0.8"/>
<path d="M549.3,725.0 Q553.6999999999999,725.0 553.6999999999999,729.4 V744.5 Q553.6999999999999,748.9 549.3,748.9" fill="none" stroke="#b8c6c9" stroke-width="0.7"/>
<path d="M434.2,731.9 H453.4 V741.6 H434.2 Z" fill="url(#thr)" stroke="#222" stroke-width="0.6"/>
<path d="M453.4,731.9 H461.75 A4.850000000000023,4.850000000000023 0 0 1 461.75,741.6 H453.4 C454.79999999999995,738.6 454.79999999999995,734.9 453.4,731.9 Z" fill="url(#barrel)" stroke="#2b3236" stroke-width="0.8"/>
<ellipse cx="461.25" cy="736.75" rx="2.18" ry="4.850000000000023" fill="url(#thr)" stroke="#222" stroke-width="0.6"/>
<line x1="224" y1="52" x2="292" y2="52" stroke="#7a7a7a" stroke-width="0.9"/>
<line x1="224" y1="81.3" x2="257" y2="81.3" stroke="#7a7a7a" stroke-width="0.9"/>
<line x1="239.7" y1="75.2" x2="257" y2="75.2" stroke="#7a7a7a" stroke-width="0.9"/>
<line x1="227.5" y1="52" x2="227.5" y2="81.3" stroke="#7a7a7a" stroke-width="0.9"/>
<polygon points="227.50,52.00 225.60,58.50 229.40,58.50" fill="#111"/>
<polygon points="227.50,81.30 225.60,74.80 229.40,74.80" fill="#111"/>
<text transform="translate(225.54,74.77) rotate(-90) scale(0.881,1)" font-size="16.20" fill="#1a1a1a" stroke="#1a1a1a" stroke-width="0.05">18</text>
<line x1="243" y1="65.7" x2="243" y2="122" stroke="#7a7a7a" stroke-width="0.9"/>
<polygon points="243.00,75.20 241.10,68.70 244.90,68.70" fill="#111"/>
<polygon points="243.00,81.30 241.10,87.80 244.90,87.80" fill="#111"/>
<text transform="translate(242.31,114.19) rotate(-90) scale(0.903,1)" font-size="19.01" fill="#1a1a1a" stroke="#1a1a1a" stroke-width="0.05">3.5</text>
<line x1="247" y1="109" x2="317.8" y2="109" stroke="#7a7a7a" stroke-width="0.9"/>
<polygon points="256.00,109.00 249.50,107.10 249.50,110.90" fill="#111"/>
<polygon points="308.50,109.00 315.00,107.10 315.00,110.90" fill="#111"/>
<line x1="256" y1="81.3" x2="256" y2="113" stroke="#7a7a7a" stroke-width="0.9"/>
<line x1="308.5" y1="73" x2="308.5" y2="113" stroke="#7a7a7a" stroke-width="0.9"/>
<text transform="translate(264.04,107.84) scale(1.017,1)" font-size="16.34" fill="#1a1a1a" stroke="#1a1a1a" stroke-width="0.05">30.5</text>
<line x1="414.4" y1="122.5" x2="570" y2="122.5" stroke="#7a7a7a" stroke-width="0.9"/>
<polygon points="414.40,122.50 420.90,120.60 420.90,124.40" fill="#111"/>
<polygon points="570.00,122.50 563.50,120.60 563.50,124.40" fill="#111"/>
<line x1="414.4" y1="81" x2="414.4" y2="126" stroke="#7a7a7a" stroke-width="0.9"/>
<line x1="570" y1="77" x2="570" y2="126" stroke="#7a7a7a" stroke-width="0.9"/>
<text transform="translate(482.75,119.35) scale(1.144,1)" font-size="14.51" fill="#1a1a1a" stroke="#1a1a1a" stroke-width="0.05">90</text>
<line x1="534.5" y1="108.9" x2="560.5" y2="108.9" stroke="#7a7a7a" stroke-width="0.9"/>
<polygon points="534.50,108.90 541.00,107.00 541.00,110.80" fill="#111"/>
<polygon points="560.50,108.90 554.00,107.00 554.00,110.80" fill="#111"/>
<line x1="534.5" y1="58" x2="534.5" y2="112" stroke="#7a7a7a" stroke-width="0.9"/>
<line x1="560.5" y1="58" x2="560.5" y2="112" stroke="#7a7a7a" stroke-width="0.9"/>
<text transform="translate(539.47,106.45) scale(0.936,1)" font-size="14.71" fill="#1a1a1a" stroke="#1a1a1a" stroke-width="0.05">15</text>
<line x1="570" y1="72.7" x2="619.4" y2="72.7" stroke="#7a7a7a" stroke-width="0.9"/>
<line x1="570" y1="77.7" x2="596.6" y2="77.7" stroke="#7a7a7a" stroke-width="0.9"/>
<line x1="579" y1="56.7" x2="619.4" y2="56.7" stroke="#7a7a7a" stroke-width="0.9"/>
<line x1="611.8" y1="49.1" x2="639" y2="49.1" stroke="#7a7a7a" stroke-width="0.9"/>
<line x1="420" y1="37.8" x2="668" y2="37.8" stroke="#7a7a7a" stroke-width="0.9"/>
<line x1="570" y1="81.1" x2="663.7" y2="81.1" stroke="#7a7a7a" stroke-width="0.9"/>
<line x1="593" y1="68.5" x2="593" y2="106.5" stroke="#7a7a7a" stroke-width="0.9"/>
<polygon points="593.00,72.70 591.10,66.20 594.90,66.20" fill="#111"/>
<polygon points="593.00,77.70 591.10,84.20 594.90,84.20" fill="#111"/>
<text transform="translate(591.50,99.24) rotate(-90) scale(1.271,1)" font-size="16.43" fill="#1a1a1a" stroke="#1a1a1a" stroke-width="0.05">2</text>
<line x1="615.8" y1="56.5" x2="615.8" y2="109.6" stroke="#7a7a7a" stroke-width="0.9"/>
<polygon points="615.80,56.70 613.90,63.20 617.70,63.20" fill="#111"/>
<polygon points="615.80,72.70 613.90,66.20 617.70,66.20" fill="#111"/>
<text transform="translate(613.83,102.26) rotate(-90) scale(1.132,1)" font-size="16.90" fill="#1a1a1a" stroke="#1a1a1a" stroke-width="0.05">9</text>
<line x1="635.2" y1="49.1" x2="635.2" y2="81.1" stroke="#7a7a7a" stroke-width="0.9"/>
<polygon points="635.20,49.10 633.30,55.60 637.10,55.60" fill="#111"/>
<polygon points="635.20,81.10 633.30,74.60 637.10,74.60" fill="#111"/>
<text transform="translate(632.85,81.69) rotate(-90) scale(1.026,1)" font-size="15.49" fill="#1a1a1a" stroke="#1a1a1a" stroke-width="0.05">18.5</text>
<line x1="659.6" y1="29" x2="659.6" y2="90.6" stroke="#7a7a7a" stroke-width="0.9"/>
<polygon points="659.60,37.80 657.70,31.30 661.50,31.30" fill="#111"/>
<polygon points="659.60,81.10 657.70,87.60 661.50,87.60" fill="#111"/>
<text transform="translate(658.42,69.83) rotate(-90) scale(0.939,1)" font-size="17.75" fill="#1a1a1a" stroke="#1a1a1a" stroke-width="0.05">25</text>
<line x1="412" y1="149.9" x2="612.4" y2="149.9" stroke="#7a7a7a" stroke-width="0.9"/>
<polygon points="412.00,149.90 418.50,148.00 418.50,151.80" fill="#111"/>
<polygon points="612.40,149.90 605.90,148.00 605.90,151.80" fill="#111"/>
<text transform="translate(491.83,148.43) scale(0.907,1)" font-size="17.14" fill="#1a1a1a" stroke="#1a1a1a" stroke-width="0.05">115</text>
<line x1="412.5" y1="147" x2="412.5" y2="293" stroke="#7a7a7a" stroke-width="0.9"/>
<line x1="612.4" y1="147" x2="612.4" y2="190" stroke="#7a7a7a" stroke-width="0.9"/>
<line x1="703.2" y1="169.5" x2="703.2" y2="257.1" stroke="#7a7a7a" stroke-width="0.9"/>
<polygon points="703.20,169.50 701.30,176.00 705.10,176.00" fill="#111"/>
<polygon points="703.20,257.10 701.30,250.60 705.10,250.60" fill="#111"/>
<line x1="522" y1="169.5" x2="706.8" y2="169.5" stroke="#7a7a7a" stroke-width="0.9"/>
<line x1="522" y1="257.1" x2="706.8" y2="257.1" stroke="#7a7a7a" stroke-width="0.9"/>
<text transform="translate(702.53,221.54) rotate(-90) scale(0.920,1)" font-size="17.32" fill="#1a1a1a" stroke="#1a1a1a" stroke-width="0.05">50</text>
<line x1="677.2" y1="183.5" x2="677.2" y2="242.3" stroke="#7a7a7a" stroke-width="0.9"/>
<polygon points="677.20,183.50 675.30,190.00 679.10,190.00" fill="#111"/>
<polygon points="677.20,242.30 675.30,235.80 679.10,235.80" fill="#111"/>
<line x1="580" y1="183.5" x2="680.5" y2="183.5" stroke="#7a7a7a" stroke-width="0.9"/>
<line x1="580" y1="242.3" x2="680.5" y2="242.3" stroke="#7a7a7a" stroke-width="0.9"/>
<text transform="translate(676.32,221.68) rotate(-90) scale(0.946,1)" font-size="17.89" fill="#1a1a1a" stroke="#1a1a1a" stroke-width="0.05">34</text>
<line x1="646.8" y1="185.5" x2="646.8" y2="240.6" stroke="#7a7a7a" stroke-width="0.9"/>
<polygon points="646.80,185.50 644.90,192.00 648.70,192.00" fill="#111"/>
<polygon points="646.80,240.60 644.90,234.10 648.70,234.10" fill="#111"/>
<line x1="612" y1="188.3" x2="650" y2="188.3" stroke="#7a7a7a" stroke-width="0.9"/>
<line x1="612" y1="237.3" x2="650" y2="237.3" stroke="#7a7a7a" stroke-width="0.9"/>
<text transform="translate(646.42,221.69) rotate(-90) scale(0.972,1)" font-size="17.75" fill="#1a1a1a" stroke="#1a1a1a" stroke-width="0.05">32</text>
<line x1="219.3" y1="174.5" x2="219.3" y2="251.8" stroke="#7a7a7a" stroke-width="0.9"/>
<polygon points="219.30,174.50 217.40,181.00 221.20,181.00" fill="#111"/>
<polygon points="219.30,251.80 217.40,245.30 221.20,245.30" fill="#111"/>
<line x1="215.4" y1="174.5" x2="257" y2="174.5" stroke="#7a7a7a" stroke-width="0.9"/>
<line x1="215.4" y1="251.8" x2="257" y2="251.8" stroke="#7a7a7a" stroke-width="0.9"/>
<text transform="translate(217.20,221.33) rotate(-90) scale(1.081,1)" font-size="15.36" fill="#1a1a1a" stroke="#1a1a1a" stroke-width="0.05">44</text>
<line x1="244.7" y1="193.7" x2="244.7" y2="232.7" stroke="#7a7a7a" stroke-width="0.9"/>
<polygon points="244.70,193.70 242.80,200.20 246.60,200.20" fill="#111"/>
<polygon points="244.70,232.70 242.80,226.20 246.60,226.20" fill="#111"/>
<line x1="242" y1="193.7" x2="269.5" y2="193.7" stroke="#7a7a7a" stroke-width="0.9"/>
<line x1="242" y1="232.7" x2="269.5" y2="232.7" stroke="#7a7a7a" stroke-width="0.9"/>
<text transform="translate(242.84,228.84) rotate(-90) scale(1.023,1)" font-size="16.34" fill="#1a1a1a" stroke="#1a1a1a" stroke-width="0.05">22.3</text>
<line x1="255" y1="212.8" x2="262" y2="212.8" stroke="#555" stroke-width="0.8"/>
<line x1="268" y1="212.8" x2="345" y2="212.8" stroke="#555" stroke-width="0.8"/>
<line x1="467" y1="212.8" x2="607" y2="212.8" stroke="#3a4448" stroke-width="0.9"/>
<line x1="615" y1="212.8" x2="622" y2="212.8" stroke="#777" stroke-width="0.8"/>
<text transform="translate(346.65,181.15) scale(1.167,1)" font-size="14.51" fill="#1a1a1a" stroke="#1a1a1a" stroke-width="0.05">M8</text>
<line x1="350" y1="182.7" x2="372" y2="182.7" stroke="#333" stroke-width="0.8"/>
<line x1="372" y1="182.7" x2="388.5" y2="203.4" stroke="#333" stroke-width="0.8"/>
<circle cx="388.5" cy="203.4" r="1.3" fill="#111"/>
<text transform="translate(187.98,274.70) scale(1.080,1)" font-size="17.00" fill="#1a1a1a" stroke="#1a1a1a" stroke-width="0.05">2-</text>
<g fill="none" stroke="#444" stroke-width="0.9"><circle cx="214.0" cy="268.2" r="6.1"/><line x1="211.4" y1="276.09999999999997" x2="217.8" y2="259.7"/></g>
<text transform="translate(223.31,274.53) scale(1.023,1)" font-size="16.76" fill="#1a1a1a" stroke="#1a1a1a" stroke-width="0.05">5.2</text>
<line x1="189" y1="275.4" x2="258.5" y2="275.4" stroke="#444" stroke-width="0.9"/>
<line x1="258.5" y1="275.4" x2="269.5" y2="232.7" stroke="#444" stroke-width="0.9"/>
<circle cx="269.5" cy="232.7" r="1.2" fill="#111"/>
<line x1="270.6" y1="280.5" x2="309" y2="280.5" stroke="#7a7a7a" stroke-width="0.9"/>
<polygon points="270.60,280.50 277.10,278.60 277.10,282.40" fill="#111"/>
<polygon points="309.00,280.50 302.50,278.60 302.50,282.40" fill="#111"/>
<line x1="270.6" y1="232.7" x2="270.6" y2="322" stroke="#7a7a7a" stroke-width="0.9"/>
<line x1="309" y1="254" x2="309" y2="284" stroke="#7a7a7a" stroke-width="0.9"/>
<text transform="translate(272.85,279.06) scale(1.186,1)" font-size="14.37" fill="#1a1a1a" stroke="#1a1a1a" stroke-width="0.05">22.8</text>
<line x1="405" y1="290.6" x2="456.5" y2="290.6" stroke="#7a7a7a" stroke-width="0.9"/>
<polygon points="413.40,290.60 406.90,288.70 406.90,292.50" fill="#111"/>
<polygon points="456.50,290.60 463.00,288.70 463.00,292.50" fill="#111"/>
<line x1="456.5" y1="290.6" x2="508.6" y2="290.6" stroke="#7a7a7a" stroke-width="0.9"/>
<polygon points="456.50,290.60 463.00,288.70 463.00,292.50" fill="#111"/>
<polygon points="508.60,290.60 502.10,288.70 502.10,292.50" fill="#111"/>
<line x1="456.5" y1="245" x2="456.5" y2="322.3" stroke="#7a7a7a" stroke-width="0.9"/>
<line x1="508.5" y1="245" x2="508.5" y2="294" stroke="#7a7a7a" stroke-width="0.9"/>
<text transform="translate(418.18,288.75) scale(1.067,1)" font-size="15.35" fill="#1a1a1a" stroke="#1a1a1a" stroke-width="0.05">24.5</text>
<text transform="translate(474.07,288.85) scale(1.017,1)" font-size="15.49" fill="#1a1a1a" stroke="#1a1a1a" stroke-width="0.05">30</text>
<text transform="translate(537.66,279.20) scale(1.001,1)" font-size="16.96" fill="#1a1a1a" stroke="#1a1a1a" stroke-width="0.05">4-</text>
<g fill="none" stroke="#444" stroke-width="0.9"><circle cx="562.5" cy="272.8" r="6.1"/><line x1="559.9" y1="280.7" x2="566.3" y2="264.3"/></g>
<text transform="translate(573.30,279.03) scale(1.042,1)" font-size="16.71" fill="#1a1a1a" stroke="#1a1a1a" stroke-width="0.05">5.4</text>
<line x1="528.3" y1="280.4" x2="601" y2="280.4" stroke="#444" stroke-width="0.9"/>
<line x1="528.3" y1="280.4" x2="508" y2="245" stroke="#444" stroke-width="0.9"/>
<circle cx="508" cy="245" r="1.2" fill="#111"/>
<line x1="270.6" y1="318.9" x2="456.5" y2="318.9" stroke="#7a7a7a" stroke-width="0.9"/>
<polygon points="270.60,318.90 277.10,317.00 277.10,320.80" fill="#111"/>
<polygon points="456.50,318.90 450.00,317.00 450.00,320.80" fill="#111"/>
<text x="313.30" y="316.40" font-size="16" textLength="60.20" lengthAdjust="spacingAndGlyphs" fill="#1a1a1a" stroke="#1a1a1a" stroke-width="0.15">调节范围</text>
<text transform="translate(373.73,317.04) scale(0.981,1)" font-size="15.77" fill="#1a1a1a" stroke="#1a1a1a" stroke-width="0.05">77~107</text>
<text transform="translate(677.09,319.33) scale(0.929,1)" font-size="17.01" fill="#1a1a1a" stroke="#111" stroke-width="0.3">[A104-1]</text>
<line x1="247.8" y1="363.7" x2="342.5" y2="363.7" stroke="#7a7a7a" stroke-width="0.9"/>
<line x1="247.8" y1="384.6" x2="306.3" y2="384.6" stroke="#7a7a7a" stroke-width="0.9"/>
<line x1="291" y1="380.4" x2="306" y2="380.4" stroke="#7a7a7a" stroke-width="0.9"/>
<line x1="250.6" y1="363.7" x2="250.6" y2="384.6" stroke="#7a7a7a" stroke-width="0.9"/>
<polygon points="250.60,363.70 248.70,370.20 252.50,370.20" fill="#111"/>
<polygon points="250.60,384.60 248.70,378.10 252.50,378.10" fill="#111"/>
<text transform="translate(249.20,384.62) rotate(-90) scale(1.117,1)" font-size="17.00" fill="#1a1a1a" stroke="#1a1a1a" stroke-width="0.05">12</text>
<line x1="294.6" y1="370.6" x2="294.6" y2="425" stroke="#7a7a7a" stroke-width="0.9"/>
<polygon points="294.60,380.40 292.70,373.90 296.50,373.90" fill="#111"/>
<polygon points="294.60,384.60 292.70,391.10 296.50,391.10" fill="#111"/>
<text transform="translate(293.60,417.46) rotate(-90) scale(0.876,1)" font-size="19.58" fill="#1a1a1a" stroke="#1a1a1a" stroke-width="0.05">2.5</text>
<line x1="300" y1="409.6" x2="358" y2="409.6" stroke="#7a7a7a" stroke-width="0.9"/>
<polygon points="306.30,409.60 299.80,407.70 299.80,411.50" fill="#111"/>
<polygon points="350.90,409.60 357.40,407.70 357.40,411.50" fill="#111"/>
<line x1="306.3" y1="384.6" x2="306.3" y2="413.8" stroke="#7a7a7a" stroke-width="0.9"/>
<line x1="350.9" y1="381.8" x2="350.9" y2="413.8" stroke="#7a7a7a" stroke-width="0.9"/>
<text transform="translate(318.01,408.02) scale(1.008,1)" font-size="17.61" fill="#1a1a1a" stroke="#1a1a1a" stroke-width="0.05">23</text>
<line x1="436.5" y1="426.2" x2="558.2" y2="426.2" stroke="#7a7a7a" stroke-width="0.9"/>
<polygon points="436.50,426.20 443.00,424.30 443.00,428.10" fill="#111"/>
<polygon points="558.20,426.20 551.70,424.30 551.70,428.10" fill="#111"/>
<line x1="436.5" y1="384" x2="436.5" y2="430" stroke="#7a7a7a" stroke-width="0.9"/>
<line x1="558.2" y1="382" x2="558.2" y2="430" stroke="#7a7a7a" stroke-width="0.9"/>
<text transform="translate(493.03,423.85) scale(1.253,1)" font-size="15.49" fill="#1a1a1a" stroke="#1a1a1a" stroke-width="0.05">65</text>
<line x1="528.6" y1="409.1" x2="548.4" y2="409.1" stroke="#7a7a7a" stroke-width="0.9"/>
<polygon points="528.60,409.10 535.10,407.20 535.10,411.00" fill="#111"/>
<polygon points="548.40,409.10 541.90,407.20 541.90,411.00" fill="#111"/>
<line x1="528.6" y1="372" x2="528.6" y2="412" stroke="#7a7a7a" stroke-width="0.9"/>
<line x1="548.4" y1="372" x2="548.4" y2="412" stroke="#7a7a7a" stroke-width="0.9"/>
<text transform="translate(530.69,407.50) scale(1.107,1)" font-size="15.80" fill="#1a1a1a" stroke="#1a1a1a" stroke-width="0.05">11</text>
<line x1="470" y1="352.3" x2="660.3" y2="352.3" stroke="#7a7a7a" stroke-width="0.9"/>
<line x1="594.4" y1="360.9" x2="636.4" y2="360.9" stroke="#7a7a7a" stroke-width="0.9"/>
<line x1="586" y1="365" x2="614.2" y2="365" stroke="#7a7a7a" stroke-width="0.9"/>
<line x1="558" y1="378.2" x2="614.2" y2="378.2" stroke="#7a7a7a" stroke-width="0.9"/>
<line x1="558" y1="382" x2="589.5" y2="382" stroke="#7a7a7a" stroke-width="0.9"/>
<line x1="558" y1="384.4" x2="660.3" y2="384.4" stroke="#7a7a7a" stroke-width="0.9"/>
<line x1="585.4" y1="372" x2="585.4" y2="425.6" stroke="#7a7a7a" stroke-width="0.9"/>
<polygon points="585.40,378.20 583.50,371.70 587.30,371.70" fill="#111"/>
<polygon points="585.40,382.00 583.50,388.50 587.30,388.50" fill="#111"/>
<text transform="translate(584.42,417.66) rotate(-90) scale(0.872,1)" font-size="17.71" fill="#1a1a1a" stroke="#1a1a1a" stroke-width="0.05">1.5</text>
<line x1="610" y1="355.6" x2="610" y2="422.3" stroke="#7a7a7a" stroke-width="0.9"/>
<polygon points="610.00,365.00 608.10,358.50 611.90,358.50" fill="#111"/>
<polygon points="610.00,378.20 608.10,384.70 611.90,384.70" fill="#111"/>
<text transform="translate(608.40,413.58) rotate(-90) scale(1.411,1)" font-size="16.67" fill="#1a1a1a" stroke="#1a1a1a" stroke-width="0.05">7</text>
<line x1="633.1" y1="360.9" x2="633.1" y2="423" stroke="#7a7a7a" stroke-width="0.9"/>
<polygon points="633.10,360.90 631.20,367.40 635.00,367.40" fill="#111"/>
<polygon points="633.10,384.40 631.20,377.90 635.00,377.90" fill="#111"/>
<text transform="translate(631.33,415.18) rotate(-90) scale(0.898,1)" font-size="17.46" fill="#1a1a1a" stroke="#1a1a1a" stroke-width="0.05">13</text>
<line x1="657" y1="352.3" x2="657" y2="428" stroke="#7a7a7a" stroke-width="0.9"/>
<polygon points="657.00,352.30 655.10,358.80 658.90,358.80" fill="#111"/>
<polygon points="657.00,384.40 655.10,377.90 658.90,377.90" fill="#111"/>
<text transform="translate(654.34,418.44) rotate(-90) scale(0.928,1)" font-size="16.43" fill="#1a1a1a" stroke="#1a1a1a" stroke-width="0.05">17.5</text>
<line x1="436" y1="450.9" x2="594" y2="450.9" stroke="#7a7a7a" stroke-width="0.9"/>
<polygon points="436.00,450.90 442.50,449.00 442.50,452.80" fill="#111"/>
<polygon points="594.00,450.90 587.50,449.00 587.50,452.80" fill="#111"/>
<text transform="translate(502.02,449.54) scale(1.091,1)" font-size="15.92" fill="#1a1a1a" stroke="#1a1a1a" stroke-width="0.05">85</text>
<line x1="436" y1="447" x2="436" y2="570" stroke="#7a7a7a" stroke-width="0.9"/>
<line x1="594" y1="447" x2="594" y2="482" stroke="#7a7a7a" stroke-width="0.9"/>
<line x1="689" y1="465.6" x2="689" y2="534.7" stroke="#7a7a7a" stroke-width="0.9"/>
<polygon points="689.00,465.60 687.10,472.10 690.90,472.10" fill="#111"/>
<polygon points="689.00,534.70 687.10,528.20 690.90,528.20" fill="#111"/>
<line x1="522" y1="465.6" x2="692.5" y2="465.6" stroke="#7a7a7a" stroke-width="0.9"/>
<line x1="522" y1="534.7" x2="692.5" y2="534.7" stroke="#7a7a7a" stroke-width="0.9"/>
<text transform="translate(687.03,508.78) rotate(-90) scale(0.971,1)" font-size="17.46" fill="#1a1a1a" stroke="#1a1a1a" stroke-width="0.05">37</text>
<line x1="660.6" y1="466.8" x2="660.6" y2="533.3" stroke="#7a7a7a" stroke-width="0.9"/>
<polygon points="660.60,476.60 658.70,470.10 662.50,470.10" fill="#111"/>
<polygon points="660.60,523.00 658.70,529.50 662.50,529.50" fill="#111"/>
<line x1="560" y1="476.6" x2="664.2" y2="476.6" stroke="#7a7a7a" stroke-width="0.9"/>
<line x1="560" y1="523" x2="664.2" y2="523" stroke="#7a7a7a" stroke-width="0.9"/>
<text transform="translate(659.23,508.47) rotate(-90) scale(0.994,1)" font-size="17.46" fill="#1a1a1a" stroke="#1a1a1a" stroke-width="0.05">25</text>
<line x1="628.7" y1="469" x2="628.7" y2="531.2" stroke="#7a7a7a" stroke-width="0.9"/>
<polygon points="628.70,478.70 626.80,472.20 630.60,472.20" fill="#111"/>
<polygon points="628.70,521.20 626.80,527.70 630.60,527.70" fill="#111"/>
<line x1="594" y1="478.7" x2="632.3" y2="478.7" stroke="#7a7a7a" stroke-width="0.9"/>
<line x1="594" y1="521.2" x2="632.3" y2="521.2" stroke="#7a7a7a" stroke-width="0.9"/>
<text transform="translate(627.61,515.56) rotate(-90) scale(0.925,1)" font-size="18.59" fill="#1a1a1a" stroke="#1a1a1a" stroke-width="0.05">22.5</text>
<line x1="229" y1="462" x2="229" y2="538" stroke="#7a7a7a" stroke-width="0.9"/>
<polygon points="229.00,472.10 227.10,465.60 230.90,465.60" fill="#111"/>
<polygon points="229.00,528.10 227.10,534.60 230.90,534.60" fill="#111"/>
<line x1="224.7" y1="472.1" x2="308" y2="472.1" stroke="#7a7a7a" stroke-width="0.9"/>
<line x1="224.7" y1="528.1" x2="308" y2="528.1" stroke="#7a7a7a" stroke-width="0.9"/>
<text transform="translate(227.81,508.04) rotate(-90) scale(0.857,1)" font-size="18.59" fill="#1a1a1a" stroke="#1a1a1a" stroke-width="0.05">30</text>
<line x1="268.5" y1="476" x2="268.5" y2="524" stroke="#7a7a7a" stroke-width="0.9"/>
<polygon points="268.50,482.70 266.60,476.20 270.40,476.20" fill="#111"/>
<polygon points="268.50,517.20 266.60,523.70 270.40,523.70" fill="#111"/>
<line x1="265.8" y1="483" x2="318.6" y2="483" stroke="#7a7a7a" stroke-width="0.9"/>
<line x1="265.8" y1="516.7" x2="318.6" y2="516.7" stroke="#7a7a7a" stroke-width="0.9"/>
<text transform="translate(267.31,516.88) rotate(-90) scale(0.920,1)" font-size="18.59" fill="#1a1a1a" stroke="#1a1a1a" stroke-width="0.05">17.6</text>
<line x1="306" y1="499.9" x2="312" y2="499.9" stroke="#555" stroke-width="0.8"/>
<line x1="316" y1="499.9" x2="386" y2="499.9" stroke="#555" stroke-width="0.8"/>
<line x1="478" y1="499.9" x2="590" y2="499.9" stroke="#3a4448" stroke-width="0.9"/>
<line x1="597" y1="499.9" x2="604" y2="499.9" stroke="#777" stroke-width="0.8"/>
<text transform="translate(283.51,459.44) scale(1.074,1)" font-size="16.20" fill="#1a1a1a" stroke="#1a1a1a" stroke-width="0.05">M6</text>
<line x1="285" y1="461" x2="312" y2="461" stroke="#444" stroke-width="0.9"/>
<line x1="312" y1="461" x2="318.6" y2="483" stroke="#444" stroke-width="0.9"/>
<text transform="translate(215.59,562.54) scale(1.116,1)" font-size="16.34" fill="#1a1a1a" stroke="#1a1a1a" stroke-width="0.05">6-</text>
<g fill="none" stroke="#444" stroke-width="0.9"><circle cx="241.5" cy="556.4" r="6.1"/><line x1="238.9" y1="564.3" x2="245.3" y2="547.9"/></g>
<text transform="translate(253.78,562.53) scale(1.088,1)" font-size="16.57" fill="#1a1a1a" stroke="#1a1a1a" stroke-width="0.05">5.4</text>
<line x1="216.5" y1="564.3" x2="290.5" y2="564.3" stroke="#444" stroke-width="0.9"/>
<line x1="290.5" y1="564.3" x2="318.6" y2="516.7" stroke="#444" stroke-width="0.9"/>
<circle cx="318.6" cy="516.7" r="1.2" fill="#111"/>
<line x1="309" y1="558.4" x2="360.4" y2="558.4" stroke="#7a7a7a" stroke-width="0.9"/>
<polygon points="318.60,558.40 312.10,556.50 312.10,560.30" fill="#111"/>
<polygon points="351.40,558.40 357.90,556.50 357.90,560.30" fill="#111"/>
<line x1="318.6" y1="517" x2="318.6" y2="594.6" stroke="#7a7a7a" stroke-width="0.9"/>
<line x1="351.4" y1="533.7" x2="351.4" y2="561" stroke="#7a7a7a" stroke-width="0.9"/>
<text transform="translate(317.29,557.52) scale(0.916,1)" font-size="17.61" fill="#1a1a1a" stroke="#1a1a1a" stroke-width="0.05">17.3</text>
<line x1="318.6" y1="591.3" x2="470.1" y2="591.3" stroke="#7a7a7a" stroke-width="0.9"/>
<polygon points="318.60,591.30 325.10,589.40 325.10,593.20" fill="#111"/>
<polygon points="470.10,591.30 463.60,589.40 463.60,593.20" fill="#111"/>
<text x="341.50" y="587.70" font-size="16" textLength="60.00" lengthAdjust="spacingAndGlyphs" fill="#1a1a1a" stroke="#1a1a1a" stroke-width="0.15">调节范围</text>
<text transform="translate(401.73,588.54) scale(1.217,1)" font-size="15.77" fill="#1a1a1a" stroke="#1a1a1a" stroke-width="0.05">55~80</text>
<line x1="427.5" y1="566.8" x2="469.9" y2="566.8" stroke="#7a7a7a" stroke-width="0.9"/>
<polygon points="437.30,566.80 430.80,564.90 430.80,568.70" fill="#111"/>
<polygon points="469.90,566.80 476.40,564.90 476.40,568.70" fill="#111"/>
<line x1="469.9" y1="566.8" x2="520.9" y2="566.8" stroke="#7a7a7a" stroke-width="0.9"/>
<polygon points="469.90,566.80 463.40,564.90 463.40,568.70" fill="#111"/>
<polygon points="510.40,566.80 516.90,564.90 516.90,568.70" fill="#111"/>
<line x1="469.9" y1="525" x2="469.9" y2="595" stroke="#7a7a7a" stroke-width="0.9"/>
<line x1="511.1" y1="525" x2="511.1" y2="570" stroke="#7a7a7a" stroke-width="0.9"/>
<text transform="translate(437.55,564.94) scale(1.011,1)" font-size="16.48" fill="#1a1a1a" stroke="#1a1a1a" stroke-width="0.05">17.3</text>
<text transform="translate(479.77,565.10) scale(0.989,1)" font-size="16.71" fill="#1a1a1a" stroke="#1a1a1a" stroke-width="0.05">22</text>
<text transform="translate(674.45,591.87) scale(0.978,1)" font-size="16.79" fill="#1a1a1a" stroke="#111" stroke-width="0.3">[A104-2]</text>
<line x1="304" y1="629" x2="371" y2="629" stroke="#7a7a7a" stroke-width="0.9"/>
<line x1="304" y1="648.7" x2="344.6" y2="648.7" stroke="#7a7a7a" stroke-width="0.9"/>
<line x1="328" y1="645" x2="344.6" y2="645" stroke="#7a7a7a" stroke-width="0.9"/>
<line x1="307.3" y1="629" x2="307.3" y2="680.9" stroke="#7a7a7a" stroke-width="0.9"/>
<polygon points="307.30,629.00 305.40,635.50 309.20,635.50" fill="#111"/>
<polygon points="307.30,648.70 305.40,642.20 309.20,642.20" fill="#111"/>
<text transform="translate(306.42,671.85) rotate(-90) scale(0.783,1)" font-size="17.89" fill="#1a1a1a" stroke="#1a1a1a" stroke-width="0.05">10</text>
<line x1="331.9" y1="635.3" x2="331.9" y2="678.4" stroke="#7a7a7a" stroke-width="0.9"/>
<polygon points="331.90,645.00 330.00,638.50 333.80,638.50" fill="#111"/>
<polygon points="331.90,648.70 330.00,655.20 333.80,655.20" fill="#111"/>
<text transform="translate(330.60,669.59) rotate(-90) scale(0.989,1)" font-size="18.00" fill="#1a1a1a" stroke="#1a1a1a" stroke-width="0.05">2</text>
<line x1="336" y1="679.6" x2="390" y2="679.6" stroke="#7a7a7a" stroke-width="0.9"/>
<polygon points="344.60,679.60 338.10,677.70 338.10,681.50" fill="#111"/>
<polygon points="378.70,679.60 385.20,677.70 385.20,681.50" fill="#111"/>
<line x1="344.6" y1="648.7" x2="344.6" y2="683" stroke="#7a7a7a" stroke-width="0.9"/>
<line x1="378.7" y1="643" x2="378.7" y2="683" stroke="#7a7a7a" stroke-width="0.9"/>
<text transform="translate(350.74,678.24) scale(1.044,1)" font-size="16.06" fill="#1a1a1a" stroke="#1a1a1a" stroke-width="0.05">19</text>
<line x1="435.5" y1="690.8" x2="529.2" y2="690.8" stroke="#7a7a7a" stroke-width="0.9"/>
<polygon points="435.50,690.80 442.00,688.90 442.00,692.70" fill="#111"/>
<polygon points="529.20,690.80 522.70,688.90 522.70,692.70" fill="#111"/>
<line x1="435.5" y1="648" x2="435.5" y2="695" stroke="#7a7a7a" stroke-width="0.9"/>
<line x1="529.2" y1="648" x2="529.2" y2="695" stroke="#7a7a7a" stroke-width="0.9"/>
<text transform="translate(465.30,687.82) scale(0.980,1)" font-size="17.75" fill="#1a1a1a" stroke="#1a1a1a" stroke-width="0.05">50</text>
<line x1="498" y1="671.5" x2="552.9" y2="671.5" stroke="#7a7a7a" stroke-width="0.9"/>
<polygon points="506.30,671.50 499.80,669.60 499.80,673.40" fill="#111"/>
<polygon points="521.60,671.50 528.10,669.60 528.10,673.40" fill="#111"/>
<line x1="506.3" y1="638" x2="506.3" y2="675" stroke="#7a7a7a" stroke-width="0.9"/>
<line x1="521.6" y1="638" x2="521.6" y2="675" stroke="#7a7a7a" stroke-width="0.9"/>
<text transform="translate(534.81,669.74) scale(1.119,1)" font-size="15.77" fill="#1a1a1a" stroke="#1a1a1a" stroke-width="0.05">8</text>
<line x1="470" y1="624.5" x2="636.8" y2="624.5" stroke="#7a7a7a" stroke-width="0.9"/>
<line x1="528.2" y1="633.4" x2="606.4" y2="633.4" stroke="#7a7a7a" stroke-width="0.9"/>
<line x1="528" y1="643.2" x2="606.4" y2="643.2" stroke="#7a7a7a" stroke-width="0.9"/>
<line x1="528" y1="645.9" x2="580.9" y2="645.9" stroke="#7a7a7a" stroke-width="0.9"/>
<line x1="528" y1="648.7" x2="636.8" y2="648.7" stroke="#7a7a7a" stroke-width="0.9"/>
<line x1="576.8" y1="636.3" x2="576.8" y2="692.3" stroke="#7a7a7a" stroke-width="0.9"/>
<polygon points="576.80,643.20 574.90,636.70 578.70,636.70" fill="#111"/>
<polygon points="576.80,648.70 574.90,655.20 578.70,655.20" fill="#111"/>
<text transform="translate(575.10,685.26) rotate(-90) scale(0.958,1)" font-size="17.57" fill="#1a1a1a" stroke="#1a1a1a" stroke-width="0.05">1.2</text>
<line x1="602.3" y1="623.2" x2="602.3" y2="693.1" stroke="#7a7a7a" stroke-width="0.9"/>
<polygon points="602.30,633.90 600.40,627.40 604.20,627.40" fill="#111"/>
<polygon points="602.30,643.20 600.40,649.70 604.20,649.70" fill="#111"/>
<text transform="translate(600.42,685.58) rotate(-90) scale(0.964,1)" font-size="17.57" fill="#1a1a1a" stroke="#1a1a1a" stroke-width="0.05">5.5</text>
<line x1="633.5" y1="624.5" x2="633.5" y2="648.7" stroke="#7a7a7a" stroke-width="0.9"/>
<polygon points="633.50,624.50 631.60,631.00 635.40,631.00" fill="#111"/>
<polygon points="633.50,648.70 631.60,642.20 635.40,642.20" fill="#111"/>
<text transform="translate(630.14,646.64) rotate(-90) scale(1.015,1)" font-size="16.34" fill="#1a1a1a" stroke="#1a1a1a" stroke-width="0.05">13</text>
<line x1="289.3" y1="703.7" x2="289.3" y2="770.3" stroke="#7a7a7a" stroke-width="0.9"/>
<polygon points="289.30,713.40 287.40,706.90 291.20,706.90" fill="#111"/>
<polygon points="289.30,760.00 287.40,766.50 291.20,766.50" fill="#111"/>
<line x1="285" y1="713.4" x2="344.4" y2="713.4" stroke="#7a7a7a" stroke-width="0.9"/>
<line x1="285" y1="760" x2="344.4" y2="760" stroke="#7a7a7a" stroke-width="0.9"/>
<text transform="translate(286.61,745.47) rotate(-90) scale(0.933,1)" font-size="18.59" fill="#1a1a1a" stroke="#1a1a1a" stroke-width="0.05">25</text>
<line x1="320" y1="712" x2="320" y2="762" stroke="#7a7a7a" stroke-width="0.9"/>
<polygon points="320.00,722.80 318.10,716.30 321.90,716.30" fill="#111"/>
<polygon points="320.00,751.60 318.10,758.10 321.90,758.10" fill="#111"/>
<line x1="316" y1="722.8" x2="352.9" y2="722.8" stroke="#7a7a7a" stroke-width="0.9"/>
<line x1="316" y1="751.6" x2="352.9" y2="751.6" stroke="#7a7a7a" stroke-width="0.9"/>
<text transform="translate(318.01,745.32) rotate(-90) scale(0.863,1)" font-size="18.86" fill="#1a1a1a" stroke="#1a1a1a" stroke-width="0.05">15</text>
<line x1="342" y1="736.9" x2="348" y2="736.9" stroke="#555" stroke-width="0.8"/>
<line x1="352" y1="736.9" x2="402" y2="736.9" stroke="#555" stroke-width="0.8"/>
<line x1="466.5" y1="736.9" x2="552" y2="736.9" stroke="#3a4448" stroke-width="0.9"/>
<line x1="557" y1="736.9" x2="565" y2="736.9" stroke="#777" stroke-width="0.8"/>
<text transform="translate(377.80,709.64) scale(1.083,1)" font-size="16.14" fill="#1a1a1a" stroke="#1a1a1a" stroke-width="0.05">M5</text>
<line x1="379" y1="711.8" x2="404.9" y2="711.8" stroke="#444" stroke-width="0.9"/>
<line x1="404.9" y1="711.8" x2="423.1" y2="732.7" stroke="#444" stroke-width="0.9"/>
<text transform="translate(255.23,789.10) scale(1.020,1)" font-size="17.14" fill="#1a1a1a" stroke="#1a1a1a" stroke-width="0.05">2-</text>
<g fill="none" stroke="#444" stroke-width="0.9"><circle cx="281.0" cy="782.6" r="6.1"/><line x1="278.4" y1="790.5" x2="284.8" y2="774.1"/></g>
<text transform="translate(293.79,788.93) scale(1.056,1)" font-size="16.90" fill="#1a1a1a" stroke="#1a1a1a" stroke-width="0.05">5.2</text>
<line x1="256" y1="790.8" x2="329.6" y2="790.8" stroke="#444" stroke-width="0.9"/>
<line x1="329.6" y1="790.8" x2="352.9" y2="751.6" stroke="#444" stroke-width="0.9"/>
<circle cx="352.9" cy="751.6" r="1.2" fill="#111"/>
<line x1="352.9" y1="789.8" x2="425.3" y2="789.8" stroke="#7a7a7a" stroke-width="0.9"/>
<polygon points="352.90,789.80 359.40,787.90 359.40,791.70" fill="#111"/>
<polygon points="379.50,789.80 373.00,787.90 373.00,791.70" fill="#111"/>
<line x1="352.9" y1="751.6" x2="352.9" y2="821.6" stroke="#7a7a7a" stroke-width="0.9"/>
<line x1="379.5" y1="761" x2="379.5" y2="795" stroke="#7a7a7a" stroke-width="0.9"/>
<text transform="translate(382.97,788.24) scale(1.116,1)" font-size="15.92" fill="#1a1a1a" stroke="#1a1a1a" stroke-width="0.05">14.3</text>
<line x1="218.5" y1="819.2" x2="461.3" y2="819.2" stroke="#7a7a7a" stroke-width="0.9"/>
<polygon points="352.90,819.20 359.40,817.30 359.40,821.10" fill="#111"/>
<polygon points="461.30,819.20 454.80,817.30 454.80,821.10" fill="#111"/>
<text x="228.80" y="815.40" font-size="16" textLength="59.70" lengthAdjust="spacingAndGlyphs" fill="#1a1a1a" stroke="#1a1a1a" stroke-width="0.15">调节范围</text>
<text transform="translate(289.13,816.35) scale(1.183,1)" font-size="15.49" fill="#1a1a1a" stroke="#1a1a1a" stroke-width="0.05">45~65</text>
<line x1="590.4" y1="723.4" x2="590.4" y2="750.5" stroke="#7a7a7a" stroke-width="0.9"/>
<polygon points="590.40,723.40 588.50,729.90 592.30,729.90" fill="#111"/>
<polygon points="590.40,750.50 588.50,744.00 592.30,744.00" fill="#111"/>
<line x1="555" y1="723.4" x2="593.4" y2="723.4" stroke="#7a7a7a" stroke-width="0.9"/>
<line x1="555" y1="750.5" x2="593.4" y2="750.5" stroke="#7a7a7a" stroke-width="0.9"/>
<text transform="translate(589.02,745.56) rotate(-90) scale(0.946,1)" font-size="17.75" fill="#1a1a1a" stroke="#1a1a1a" stroke-width="0.05">18</text>
<line x1="619.7" y1="704" x2="619.7" y2="768" stroke="#7a7a7a" stroke-width="0.9"/>
<polygon points="619.70,710.60 617.80,704.10 621.60,704.10" fill="#111"/>
<polygon points="619.70,762.50 617.80,769.00 621.60,769.00" fill="#111"/>
<line x1="498" y1="710.6" x2="622.6" y2="710.6" stroke="#7a7a7a" stroke-width="0.9"/>
<line x1="498" y1="762.5" x2="622.6" y2="762.5" stroke="#7a7a7a" stroke-width="0.9"/>
<text transform="translate(618.22,747.22) rotate(-90) scale(0.930,1)" font-size="17.61" fill="#1a1a1a" stroke="#1a1a1a" stroke-width="0.05">28</text>
<line x1="453" y1="789.4" x2="500" y2="789.4" stroke="#7a7a7a" stroke-width="0.9"/>
<polygon points="461.30,789.40 454.80,787.50 454.80,791.30" fill="#111"/>
<polygon points="490.60,789.40 497.10,787.50 497.10,791.30" fill="#111"/>
<line x1="461.3" y1="756.7" x2="461.3" y2="822" stroke="#7a7a7a" stroke-width="0.9"/>
<line x1="490.6" y1="756.7" x2="490.6" y2="793" stroke="#7a7a7a" stroke-width="0.9"/>
<text transform="translate(465.45,788.02) scale(1.014,1)" font-size="17.75" fill="#1a1a1a" stroke="#1a1a1a" stroke-width="0.05">16</text>
<text transform="translate(519.97,788.20) scale(0.909,1)" font-size="18.26" fill="#1a1a1a" stroke="#1a1a1a" stroke-width="0.05">4-</text>
<g fill="none" stroke="#444" stroke-width="0.9"><circle cx="545.0" cy="781.4" r="6.1"/><line x1="542.4" y1="789.3" x2="548.8" y2="772.9"/></g>
<text transform="translate(558.64,788.20) scale(1.006,1)" font-size="18.00" fill="#1a1a1a" stroke="#1a1a1a" stroke-width="0.05">4.2</text>
<line x1="509.8" y1="790.3" x2="583" y2="790.3" stroke="#444" stroke-width="0.9"/>
<line x1="509.8" y1="790.3" x2="490.6" y2="756.7" stroke="#444" stroke-width="0.9"/>
<circle cx="490.6" cy="756.7" r="1.2" fill="#111"/>
<text transform="translate(674.49,819.28) scale(1.001,1)" font-size="15.83" fill="#1a1a1a" stroke="#111" stroke-width="0.3">[A104-3]</text>
</svg>
</body></html>
